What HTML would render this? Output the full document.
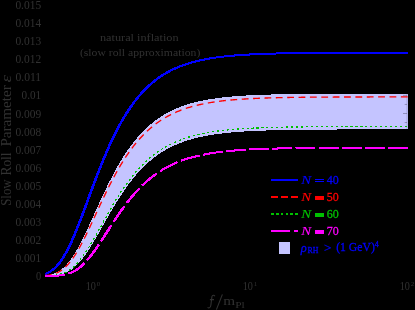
<!DOCTYPE html><html><head><meta charset="utf-8"><style>html,body{margin:0;padding:0;background:#000;width:415px;height:310px;overflow:hidden}svg{display:block;will-change:transform}text{font-family:"Liberation Serif",serif}</style></head><body>
<svg width="415" height="310" viewBox="0 0 415 310">
<rect width="415" height="310" fill="#000"/>
<path transform="translate(-0.5 0)" d="M45.74 275.46 L46.46 275.37 L47.18 275.28 L47.91 275.17 L48.63 275.06 L49.35 274.92 L50.07 274.78 L50.80 274.62 L51.52 274.44 L52.24 274.24 L52.96 274.02 L53.69 273.79 L54.41 273.53 L55.13 273.25 L55.85 272.95 L56.58 272.62 L57.30 272.27 L58.02 271.88 L58.74 271.48 L59.47 271.04 L60.19 270.57 L60.91 270.07 L61.63 269.55 L62.36 268.98 L63.08 268.39 L63.80 267.76 L64.52 267.10 L65.25 266.41 L65.97 265.68 L66.69 264.92 L67.41 264.12 L68.14 263.28 L68.86 262.41 L69.58 261.51 L70.30 260.57 L71.03 259.60 L71.75 258.60 L72.47 257.56 L73.19 256.48 L73.92 255.38 L74.64 254.24 L75.36 253.08 L76.08 251.88 L76.81 250.65 L77.53 249.40 L78.25 248.12 L78.97 246.81 L79.70 245.47 L80.42 244.12 L81.14 242.74 L81.86 241.33 L82.59 239.91 L83.31 238.47 L84.03 237.01 L84.75 235.53 L85.48 234.03 L86.20 232.53 L86.92 231.00 L87.64 229.47 L88.37 227.92 L89.09 226.37 L89.81 224.80 L90.53 223.23 L91.26 221.65 L91.98 220.07 L92.70 218.48 L93.42 216.89 L94.15 215.29 L94.87 213.70 L95.59 212.10 L96.31 210.51 L97.04 208.91 L97.76 207.33 L98.48 205.74 L99.21 204.16 L99.93 202.58 L100.65 201.01 L101.37 199.44 L102.10 197.89 L102.82 196.34 L103.54 194.80 L104.26 193.27 L104.99 191.74 L105.71 190.23 L106.43 188.73 L107.15 187.24 L107.88 185.77 L108.60 184.30 L109.32 182.85 L110.04 181.41 L110.77 179.98 L111.49 178.57 L112.21 177.17 L112.93 175.79 L113.66 174.42 L114.38 173.07 L115.10 171.73 L115.82 170.40 L116.55 169.09 L117.27 167.80 L117.99 166.52 L118.71 165.26 L119.44 164.01 L120.16 162.78 L120.88 161.57 L121.60 160.37 L122.33 159.19 L123.05 158.02 L123.77 156.87 L124.49 155.74 L125.22 154.62 L125.94 153.51 L126.66 152.43 L127.38 151.36 L128.11 150.30 L128.83 149.26 L129.55 148.24 L130.27 147.23 L131.00 146.24 L131.72 145.26 L132.44 144.30 L133.16 143.35 L133.89 142.42 L134.61 141.50 L135.33 140.60 L136.05 139.71 L136.78 138.84 L137.50 137.98 L138.22 137.14 L138.94 136.31 L139.67 135.49 L140.39 134.69 L141.11 133.90 L141.83 133.13 L142.56 132.36 L143.28 131.62 L144.00 130.88 L144.72 130.16 L145.45 129.45 L146.17 128.75 L146.89 128.06 L147.61 127.39 L148.34 126.73 L149.06 126.08 L149.78 125.44 L150.50 124.82 L151.23 124.20 L151.95 123.60 L152.67 123.01 L153.39 122.42 L154.12 121.85 L154.84 121.29 L155.56 120.74 L156.28 120.20 L157.01 119.67 L157.73 119.15 L158.45 118.64 L159.17 118.14 L159.90 117.65 L160.62 117.17 L161.34 116.70 L162.06 116.23 L162.79 115.78 L163.51 115.33 L164.23 114.89 L164.95 114.46 L165.68 114.04 L166.40 113.63 L167.12 113.22 L167.84 112.83 L168.57 112.44 L169.29 112.06 L170.01 111.68 L170.73 111.31 L171.46 110.95 L172.18 110.60 L172.90 110.25 L173.62 109.91 L174.35 109.58 L175.07 109.26 L175.79 108.94 L176.52 108.62 L177.24 108.31 L177.96 108.01 L178.68 107.72 L179.41 107.43 L180.13 107.14 L180.85 106.87 L181.57 106.59 L182.30 106.33 L183.02 106.06 L183.74 105.81 L184.46 105.56 L185.19 105.31 L185.91 105.07 L186.63 104.83 L187.35 104.60 L188.08 104.37 L188.80 104.15 L189.52 103.93 L190.24 103.72 L190.97 103.51 L191.69 103.30 L192.41 103.10 L193.13 102.90 L193.86 102.71 L194.58 102.52 L195.30 102.34 L196.02 102.15 L196.75 101.98 L197.47 101.80 L198.19 101.63 L198.91 101.46 L199.64 101.30 L200.36 101.14 L201.08 100.98 L201.80 100.83 L202.53 100.68 L203.25 100.53 L203.97 100.38 L204.69 100.24 L205.42 100.10 L206.14 99.97 L206.86 99.83 L207.58 99.70 L208.31 99.58 L209.03 99.45 L209.75 99.33 L210.47 99.21 L211.20 99.09 L211.92 98.97 L212.64 98.86 L213.36 98.75 L214.09 98.64 L214.81 98.54 L215.53 98.43 L216.25 98.33 L216.98 98.23 L217.70 98.13 L218.42 98.04 L219.14 97.94 L219.87 97.85 L220.59 97.76 L221.31 97.67 L222.03 97.59 L222.76 97.50 L223.48 97.42 L224.20 97.34 L224.92 97.26 L225.65 97.18 L226.37 97.11 L227.09 97.03 L227.81 96.96 L228.54 96.89 L229.26 96.82 L229.98 96.75 L230.70 96.68 L231.43 96.62 L232.15 96.55 L232.87 96.49 L233.59 96.43 L234.32 96.37 L235.04 96.31 L235.76 96.25 L236.48 96.19 L237.21 96.14 L237.93 96.08 L238.65 96.03 L239.37 95.98 L240.10 95.93 L240.82 95.88 L241.54 95.83 L242.26 95.78 L242.99 95.73 L243.71 95.69 L244.43 95.64 L245.15 95.60 L245.88 95.55 L246.60 95.51 L247.32 95.47 L248.04 95.43 L248.77 95.39 L249.49 95.35 L250.21 95.31 L250.93 95.28 L251.66 95.24 L252.38 95.20 L253.10 95.17 L253.83 95.13 L254.55 95.10 L255.27 95.07 L255.99 95.04 L256.72 95.00 L257.44 94.97 L258.16 94.94 L258.88 94.91 L259.61 94.88 L260.33 94.86 L261.05 94.83 L261.77 94.80 L262.50 94.78 L263.22 94.75 L263.94 94.72 L264.66 94.70 L265.39 94.67 L266.11 94.65 L266.83 94.63 L267.55 94.60 L268.28 94.58 L269.00 94.56 L269.72 94.54 L270.44 94.52 L271.17 94.50 L271.89 94.48 L272.61 94.46 L273.33 94.44 L274.06 94.42 L274.78 94.40 L275.50 94.38 L276.22 94.36 L276.95 94.35 L277.67 94.33 L278.39 94.31 L279.11 94.30 L279.84 94.28 L280.56 94.26 L281.28 94.25 L282.00 94.23 L282.73 94.22 L283.45 94.20 L284.17 94.19 L284.89 94.18 L285.62 94.16 L286.34 94.15 L287.06 94.14 L287.78 94.12 L288.51 94.11 L289.23 94.10 L289.95 94.09 L290.67 94.08 L291.40 94.06 L292.12 94.05 L292.84 94.04 L293.56 94.03 L294.29 94.02 L295.01 94.01 L295.73 94.00 L296.45 93.99 L297.18 93.98 L297.90 93.97 L298.62 93.96 L299.34 93.95 L300.07 93.94 L300.79 93.94 L301.51 93.93 L302.23 93.92 L302.96 93.91 L303.68 93.90 L304.40 93.90 L305.12 93.89 L305.85 93.88 L306.57 93.87 L307.29 93.87 L308.01 93.86 L308.74 93.85 L309.46 93.85 L310.18 93.84 L310.90 93.83 L311.63 93.83 L312.35 93.82 L313.07 93.81 L313.79 93.81 L314.52 93.80 L315.24 93.80 L315.96 93.79 L316.68 93.79 L317.41 93.78 L318.13 93.77 L318.85 93.77 L319.57 93.76 L320.30 93.76 L321.02 93.75 L321.74 93.75 L322.46 93.75 L323.19 93.74 L323.91 93.74 L324.63 93.73 L325.35 93.73 L326.08 93.72 L326.80 93.72 L327.52 93.72 L328.24 93.71 L328.97 93.71 L329.69 93.70 L330.41 93.70 L331.14 93.70 L331.86 93.69 L332.58 93.69 L333.30 93.69 L334.03 93.68 L334.75 93.68 L335.47 93.68 L336.19 93.67 L336.92 93.67 L337.64 93.67 L338.36 93.67 L339.08 93.66 L339.81 93.66 L340.53 93.66 L341.25 93.65 L341.97 93.65 L342.70 93.65 L343.42 93.65 L344.14 93.64 L344.86 93.64 L345.59 93.64 L346.31 93.64 L347.03 93.64 L347.75 93.63 L348.48 93.63 L349.20 93.63 L349.92 93.63 L350.64 93.62 L351.37 93.62 L352.09 93.62 L352.81 93.62 L353.53 93.62 L354.26 93.62 L354.98 93.61 L355.70 93.61 L356.42 93.61 L357.15 93.61 L357.87 93.61 L358.59 93.61 L359.31 93.60 L360.04 93.60 L360.76 93.60 L361.48 93.60 L362.20 93.60 L362.93 93.60 L363.65 93.59 L364.37 93.59 L365.09 93.59 L365.82 93.59 L366.54 93.59 L367.26 93.59 L367.98 93.59 L368.71 93.59 L369.43 93.58 L370.15 93.58 L370.87 93.58 L371.60 93.58 L372.32 93.58 L373.04 93.58 L373.76 93.58 L374.49 93.58 L375.21 93.58 L375.93 93.58 L376.65 93.57 L377.38 93.57 L378.10 93.57 L378.82 93.57 L379.54 93.57 L380.27 93.57 L380.99 93.57 L381.71 93.57 L382.43 93.57 L383.16 93.57 L383.88 93.57 L384.60 93.57 L385.32 93.56 L386.05 93.56 L386.77 93.56 L387.49 93.56 L388.21 93.56 L388.94 93.56 L389.66 93.56 L390.38 93.56 L391.10 93.56 L391.83 93.56 L392.55 93.56 L393.27 93.56 L393.99 93.56 L394.72 93.56 L395.44 93.56 L396.16 93.56 L396.88 93.55 L397.61 93.55 L398.33 93.55 L399.05 93.55 L399.77 93.55 L400.50 93.55 L401.22 93.55 L401.94 93.55 L402.66 93.55 L403.39 93.55 L404.11 93.55 L404.83 93.55 L405.55 93.55 L406.28 93.55 L407.00 93.55 L407.00 129.37 L406.28 129.37 L405.55 129.37 L404.83 129.38 L404.11 129.38 L403.39 129.38 L402.66 129.38 L401.94 129.38 L401.22 129.38 L400.50 129.38 L399.77 129.38 L399.05 129.38 L398.33 129.38 L397.61 129.38 L396.88 129.38 L396.16 129.38 L395.44 129.38 L394.72 129.38 L393.99 129.38 L393.27 129.38 L392.55 129.38 L391.83 129.38 L391.10 129.38 L390.38 129.39 L389.66 129.39 L388.94 129.39 L388.21 129.39 L387.49 129.39 L386.77 129.39 L386.05 129.39 L385.32 129.39 L384.60 129.39 L383.88 129.39 L383.16 129.39 L382.43 129.39 L381.71 129.39 L380.99 129.39 L380.27 129.40 L379.54 129.40 L378.82 129.40 L378.10 129.40 L377.38 129.40 L376.65 129.40 L375.93 129.40 L375.21 129.40 L374.49 129.40 L373.76 129.40 L373.04 129.40 L372.32 129.41 L371.60 129.41 L370.87 129.41 L370.15 129.41 L369.43 129.41 L368.71 129.41 L367.98 129.41 L367.26 129.41 L366.54 129.41 L365.82 129.42 L365.09 129.42 L364.37 129.42 L363.65 129.42 L362.93 129.42 L362.20 129.42 L361.48 129.42 L360.76 129.43 L360.04 129.43 L359.31 129.43 L358.59 129.43 L357.87 129.43 L357.15 129.43 L356.42 129.44 L355.70 129.44 L354.98 129.44 L354.26 129.44 L353.53 129.44 L352.81 129.44 L352.09 129.45 L351.37 129.45 L350.64 129.45 L349.92 129.45 L349.20 129.45 L348.48 129.46 L347.75 129.46 L347.03 129.46 L346.31 129.46 L345.59 129.47 L344.86 129.47 L344.14 129.47 L343.42 129.47 L342.70 129.47 L341.97 129.48 L341.25 129.48 L340.53 129.48 L339.81 129.49 L339.08 129.49 L338.36 129.49 L337.64 129.49 L336.92 129.50 L336.19 129.50 L335.47 129.50 L334.75 129.51 L334.03 129.51 L333.30 129.51 L332.58 129.52 L331.86 129.52 L331.14 129.52 L330.41 129.53 L329.69 129.53 L328.97 129.53 L328.24 129.54 L327.52 129.54 L326.80 129.55 L326.08 129.55 L325.35 129.55 L324.63 129.56 L323.91 129.56 L323.19 129.57 L322.46 129.57 L321.74 129.58 L321.02 129.58 L320.30 129.58 L319.57 129.59 L318.85 129.59 L318.13 129.60 L317.41 129.61 L316.68 129.61 L315.96 129.62 L315.24 129.62 L314.52 129.63 L313.79 129.63 L313.07 129.64 L312.35 129.64 L311.63 129.65 L310.90 129.66 L310.18 129.66 L309.46 129.67 L308.74 129.68 L308.01 129.68 L307.29 129.69 L306.57 129.70 L305.85 129.71 L305.12 129.71 L304.40 129.72 L303.68 129.73 L302.96 129.74 L302.23 129.74 L301.51 129.75 L300.79 129.76 L300.07 129.77 L299.34 129.78 L298.62 129.79 L297.90 129.80 L297.18 129.81 L296.45 129.82 L295.73 129.83 L295.01 129.84 L294.29 129.85 L293.56 129.86 L292.84 129.87 L292.12 129.88 L291.40 129.89 L290.67 129.90 L289.95 129.91 L289.23 129.92 L288.51 129.94 L287.78 129.95 L287.06 129.96 L286.34 129.97 L285.62 129.99 L284.89 130.00 L284.17 130.02 L283.45 130.03 L282.73 130.04 L282.00 130.06 L281.28 130.07 L280.56 130.09 L279.84 130.10 L279.11 130.12 L278.39 130.14 L277.67 130.15 L276.95 130.17 L276.22 130.19 L275.50 130.21 L274.78 130.22 L274.06 130.24 L273.33 130.26 L272.61 130.28 L271.89 130.30 L271.17 130.32 L270.44 130.34 L269.72 130.36 L269.00 130.38 L268.28 130.41 L267.55 130.43 L266.83 130.45 L266.11 130.47 L265.39 130.50 L264.66 130.52 L263.94 130.55 L263.22 130.57 L262.50 130.60 L261.77 130.63 L261.05 130.65 L260.33 130.68 L259.61 130.71 L258.88 130.74 L258.16 130.77 L257.44 130.80 L256.72 130.83 L255.99 130.86 L255.27 130.89 L254.55 130.93 L253.83 130.96 L253.10 130.99 L252.38 131.03 L251.66 131.06 L250.93 131.10 L250.21 131.14 L249.49 131.17 L248.77 131.21 L248.04 131.25 L247.32 131.29 L246.60 131.34 L245.88 131.38 L245.15 131.42 L244.43 131.46 L243.71 131.51 L242.99 131.56 L242.26 131.60 L241.54 131.65 L240.82 131.70 L240.10 131.75 L239.37 131.80 L238.65 131.85 L237.93 131.90 L237.21 131.96 L236.48 132.01 L235.76 132.07 L235.04 132.13 L234.32 132.19 L233.59 132.25 L232.87 132.31 L232.15 132.37 L231.43 132.44 L230.70 132.50 L229.98 132.57 L229.26 132.64 L228.54 132.71 L227.81 132.78 L227.09 132.85 L226.37 132.93 L225.65 133.00 L224.92 133.08 L224.20 133.16 L223.48 133.24 L222.76 133.32 L222.03 133.40 L221.31 133.49 L220.59 133.58 L219.87 133.67 L219.14 133.76 L218.42 133.85 L217.70 133.95 L216.98 134.05 L216.25 134.14 L215.53 134.25 L214.81 134.35 L214.09 134.46 L213.36 134.56 L212.64 134.67 L211.92 134.79 L211.20 134.90 L210.47 135.02 L209.75 135.14 L209.03 135.26 L208.31 135.38 L207.58 135.51 L206.86 135.64 L206.14 135.77 L205.42 135.91 L204.69 136.05 L203.97 136.19 L203.25 136.33 L202.53 136.48 L201.80 136.63 L201.08 136.78 L200.36 136.94 L199.64 137.10 L198.91 137.26 L198.19 137.43 L197.47 137.60 L196.75 137.77 L196.02 137.95 L195.30 138.13 L194.58 138.31 L193.86 138.50 L193.13 138.69 L192.41 138.88 L191.69 139.08 L190.97 139.29 L190.24 139.49 L189.52 139.71 L188.80 139.92 L188.08 140.14 L187.35 140.37 L186.63 140.60 L185.91 140.83 L185.19 141.07 L184.46 141.31 L183.74 141.56 L183.02 141.82 L182.30 142.08 L181.57 142.34 L180.85 142.61 L180.13 142.88 L179.41 143.16 L178.68 143.45 L177.96 143.74 L177.24 144.04 L176.52 144.34 L175.79 144.65 L175.07 144.96 L174.35 145.29 L173.62 145.61 L172.90 145.95 L172.18 146.29 L171.46 146.63 L170.73 146.99 L170.01 147.35 L169.29 147.72 L168.57 148.09 L167.84 148.47 L167.12 148.86 L166.40 149.26 L165.68 149.67 L164.95 150.08 L164.23 150.50 L163.51 150.93 L162.79 151.36 L162.06 151.81 L161.34 152.26 L160.62 152.72 L159.90 153.19 L159.17 153.67 L158.45 154.16 L157.73 154.66 L157.01 155.16 L156.28 155.68 L155.56 156.20 L154.84 156.74 L154.12 157.28 L153.39 157.84 L152.67 158.40 L151.95 158.97 L151.23 159.56 L150.50 160.15 L149.78 160.76 L149.06 161.37 L148.34 162.00 L147.61 162.64 L146.89 163.28 L146.17 163.94 L145.45 164.61 L144.72 165.30 L144.00 165.99 L143.28 166.70 L142.56 167.41 L141.83 168.14 L141.11 168.88 L140.39 169.63 L139.67 170.40 L138.94 171.18 L138.22 171.96 L137.50 172.77 L136.78 173.58 L136.05 174.41 L135.33 175.25 L134.61 176.10 L133.89 176.96 L133.16 177.84 L132.44 178.73 L131.72 179.63 L131.00 180.55 L130.27 181.48 L129.55 182.42 L128.83 183.38 L128.11 184.34 L127.38 185.32 L126.66 186.32 L125.94 187.32 L125.22 188.34 L124.49 189.37 L123.77 190.41 L123.05 191.47 L122.33 192.54 L121.60 193.62 L120.88 194.71 L120.16 195.82 L119.44 196.93 L118.71 198.06 L117.99 199.20 L117.27 200.35 L116.55 201.51 L115.82 202.68 L115.10 203.86 L114.38 205.05 L113.66 206.25 L112.93 207.45 L112.21 208.67 L111.49 209.90 L110.77 211.13 L110.04 212.37 L109.32 213.62 L108.60 214.87 L107.88 216.13 L107.15 217.39 L106.43 218.66 L105.71 219.94 L104.99 221.21 L104.26 222.49 L103.54 223.77 L102.82 225.05 L102.10 226.33 L101.37 227.62 L100.65 228.90 L99.93 230.18 L99.21 231.45 L98.48 232.72 L97.76 233.99 L97.04 235.25 L96.31 236.51 L95.59 237.76 L94.87 239.00 L94.15 240.23 L93.42 241.45 L92.70 242.66 L91.98 243.85 L91.26 245.04 L90.53 246.21 L89.81 247.36 L89.09 248.50 L88.37 249.62 L87.64 250.72 L86.92 251.81 L86.20 252.88 L85.48 253.92 L84.75 254.94 L84.03 255.94 L83.31 256.92 L82.59 257.88 L81.86 258.81 L81.14 259.71 L80.42 260.59 L79.70 261.45 L78.97 262.27 L78.25 263.07 L77.53 263.84 L76.81 264.59 L76.08 265.31 L75.36 266.00 L74.64 266.66 L73.92 267.29 L73.19 267.90 L72.47 268.47 L71.75 269.02 L71.03 269.54 L70.30 270.04 L69.58 270.51 L68.86 270.95 L68.14 271.37 L67.41 271.76 L66.69 272.13 L65.97 272.47 L65.25 272.79 L64.52 273.09 L63.80 273.37 L63.08 273.63 L62.36 273.86 L61.63 274.08 L60.91 274.28 L60.19 274.47 L59.47 274.64 L58.74 274.79 L58.02 274.93 L57.30 275.06 L56.58 275.17 L55.85 275.27 L55.13 275.36 L54.41 275.45 L53.69 275.52 L52.96 275.58 L52.24 275.64 L51.52 275.69 L50.80 275.74 L50.07 275.78 L49.35 275.81 L48.63 275.84 L47.91 275.86 L47.18 275.89 L46.46 275.91 L45.74 275.92 Z" fill="#c4c4ff" shape-rendering="crispEdges"/>
<path transform="translate(0.5 0)" d="M45.74 275.46 L46.46 275.37 L47.18 275.28 L47.91 275.17 L48.63 275.06 L49.35 274.92 L50.07 274.78 L50.80 274.62 L51.52 274.44 L52.24 274.24 L52.96 274.02 L53.69 273.79 L54.41 273.53 L55.13 273.25 L55.85 272.95 L56.58 272.62 L57.30 272.27 L58.02 271.88 L58.74 271.48 L59.47 271.04 L60.19 270.57 L60.91 270.07 L61.63 269.55 L62.36 268.98 L63.08 268.39 L63.80 267.76 L64.52 267.10 L65.25 266.41 L65.97 265.68 L66.69 264.92 L67.41 264.12 L68.14 263.28 L68.86 262.41 L69.58 261.51 L70.30 260.57 L71.03 259.60 L71.75 258.60 L72.47 257.56 L73.19 256.48 L73.92 255.38 L74.64 254.24 L75.36 253.08 L76.08 251.88 L76.81 250.65 L77.53 249.40 L78.25 248.12 L78.97 246.81 L79.70 245.47 L80.42 244.12 L81.14 242.74 L81.86 241.33 L82.59 239.91 L83.31 238.47 L84.03 237.01 L84.75 235.53 L85.48 234.03 L86.20 232.53 L86.92 231.00 L87.64 229.47 L88.37 227.92 L89.09 226.37 L89.81 224.80 L90.53 223.23 L91.26 221.65 L91.98 220.07 L92.70 218.48 L93.42 216.89 L94.15 215.29 L94.87 213.70 L95.59 212.10 L96.31 210.51 L97.04 208.91 L97.76 207.33 L98.48 205.74 L99.21 204.16 L99.93 202.58 L100.65 201.01 L101.37 199.44 L102.10 197.89 L102.82 196.34 L103.54 194.80 L104.26 193.27 L104.99 191.74 L105.71 190.23 L106.43 188.73 L107.15 187.24 L107.88 185.77 L108.60 184.30 L109.32 182.85 L110.04 181.41 L110.77 179.98 L111.49 178.57 L112.21 177.17 L112.93 175.79 L113.66 174.42 L114.38 173.07 L115.10 171.73 L115.82 170.40 L116.55 169.09 L117.27 167.80 L117.99 166.52 L118.71 165.26 L119.44 164.01 L120.16 162.78 L120.88 161.57 L121.60 160.37 L122.33 159.19 L123.05 158.02 L123.77 156.87 L124.49 155.74 L125.22 154.62 L125.94 153.51 L126.66 152.43 L127.38 151.36 L128.11 150.30 L128.83 149.26 L129.55 148.24 L130.27 147.23 L131.00 146.24 L131.72 145.26 L132.44 144.30 L133.16 143.35 L133.89 142.42 L134.61 141.50 L135.33 140.60 L136.05 139.71 L136.78 138.84 L137.50 137.98 L138.22 137.14 L138.94 136.31 L139.67 135.49 L140.39 134.69 L141.11 133.90 L141.83 133.13 L142.56 132.36 L143.28 131.62 L144.00 130.88 L144.72 130.16 L145.45 129.45 L146.17 128.75 L146.89 128.06 L147.61 127.39 L148.34 126.73 L149.06 126.08 L149.78 125.44 L150.50 124.82 L151.23 124.20 L151.95 123.60 L152.67 123.01 L153.39 122.42 L154.12 121.85 L154.84 121.29 L155.56 120.74 L156.28 120.20 L157.01 119.67 L157.73 119.15 L158.45 118.64 L159.17 118.14 L159.90 117.65 L160.62 117.17 L161.34 116.70 L162.06 116.23 L162.79 115.78 L163.51 115.33 L164.23 114.89 L164.95 114.46 L165.68 114.04 L166.40 113.63 L167.12 113.22 L167.84 112.83 L168.57 112.44 L169.29 112.06 L170.01 111.68 L170.73 111.31 L171.46 110.95 L172.18 110.60 L172.90 110.25 L173.62 109.91 L174.35 109.58 L175.07 109.26 L175.79 108.94 L176.52 108.62 L177.24 108.31 L177.96 108.01 L178.68 107.72 L179.41 107.43 L180.13 107.14 L180.85 106.87 L181.57 106.59 L182.30 106.33 L183.02 106.06 L183.74 105.81 L184.46 105.56 L185.19 105.31 L185.91 105.07 L186.63 104.83 L187.35 104.60 L188.08 104.37 L188.80 104.15 L189.52 103.93 L190.24 103.72 L190.97 103.51 L191.69 103.30 L192.41 103.10 L193.13 102.90 L193.86 102.71 L194.58 102.52 L195.30 102.34 L196.02 102.15 L196.75 101.98 L197.47 101.80 L198.19 101.63 L198.91 101.46 L199.64 101.30 L200.36 101.14 L201.08 100.98 L201.80 100.83 L202.53 100.68 L203.25 100.53 L203.97 100.38 L204.69 100.24 L205.42 100.10 L206.14 99.97 L206.86 99.83 L207.58 99.70 L208.31 99.58 L209.03 99.45 L209.75 99.33 L210.47 99.21 L211.20 99.09 L211.92 98.97 L212.64 98.86 L213.36 98.75 L214.09 98.64 L214.81 98.54 L215.53 98.43 L216.25 98.33 L216.98 98.23 L217.70 98.13 L218.42 98.04 L219.14 97.94 L219.87 97.85 L220.59 97.76 L221.31 97.67 L222.03 97.59 L222.76 97.50 L223.48 97.42 L224.20 97.34 L224.92 97.26 L225.65 97.18 L226.37 97.11 L227.09 97.03 L227.81 96.96 L228.54 96.89 L229.26 96.82 L229.98 96.75 L230.70 96.68 L231.43 96.62 L232.15 96.55 L232.87 96.49 L233.59 96.43 L234.32 96.37 L235.04 96.31 L235.76 96.25 L236.48 96.19 L237.21 96.14 L237.93 96.08 L238.65 96.03 L239.37 95.98 L240.10 95.93 L240.82 95.88 L241.54 95.83 L242.26 95.78 L242.99 95.73 L243.71 95.69 L244.43 95.64 L245.15 95.60 L245.88 95.55 L246.60 95.51 L247.32 95.47 L248.04 95.43 L248.77 95.39 L249.49 95.35 L250.21 95.31 L250.93 95.28 L251.66 95.24 L252.38 95.20 L253.10 95.17 L253.83 95.13 L254.55 95.10 L255.27 95.07 L255.99 95.04 L256.72 95.00 L257.44 94.97 L258.16 94.94 L258.88 94.91 L259.61 94.88 L260.33 94.86 L261.05 94.83 L261.77 94.80 L262.50 94.78 L263.22 94.75 L263.94 94.72 L264.66 94.70 L265.39 94.67 L266.11 94.65 L266.83 94.63 L267.55 94.60 L268.28 94.58 L269.00 94.56 L269.72 94.54 L270.44 94.52 L271.17 94.50 L271.89 94.48 L272.61 94.46 L273.33 94.44 L274.06 94.42 L274.78 94.40 L275.50 94.38 L276.22 94.36 L276.95 94.35 L277.67 94.33 L278.39 94.31 L279.11 94.30 L279.84 94.28 L280.56 94.26 L281.28 94.25 L282.00 94.23 L282.73 94.22 L283.45 94.20 L284.17 94.19 L284.89 94.18 L285.62 94.16 L286.34 94.15 L287.06 94.14 L287.78 94.12 L288.51 94.11 L289.23 94.10 L289.95 94.09 L290.67 94.08 L291.40 94.06 L292.12 94.05 L292.84 94.04 L293.56 94.03 L294.29 94.02 L295.01 94.01 L295.73 94.00 L296.45 93.99 L297.18 93.98 L297.90 93.97 L298.62 93.96 L299.34 93.95 L300.07 93.94 L300.79 93.94 L301.51 93.93 L302.23 93.92 L302.96 93.91 L303.68 93.90 L304.40 93.90 L305.12 93.89 L305.85 93.88 L306.57 93.87 L307.29 93.87 L308.01 93.86 L308.74 93.85 L309.46 93.85 L310.18 93.84 L310.90 93.83 L311.63 93.83 L312.35 93.82 L313.07 93.81 L313.79 93.81 L314.52 93.80 L315.24 93.80 L315.96 93.79 L316.68 93.79 L317.41 93.78 L318.13 93.77 L318.85 93.77 L319.57 93.76 L320.30 93.76 L321.02 93.75 L321.74 93.75 L322.46 93.75 L323.19 93.74 L323.91 93.74 L324.63 93.73 L325.35 93.73 L326.08 93.72 L326.80 93.72 L327.52 93.72 L328.24 93.71 L328.97 93.71 L329.69 93.70 L330.41 93.70 L331.14 93.70 L331.86 93.69 L332.58 93.69 L333.30 93.69 L334.03 93.68 L334.75 93.68 L335.47 93.68 L336.19 93.67 L336.92 93.67 L337.64 93.67 L338.36 93.67 L339.08 93.66 L339.81 93.66 L340.53 93.66 L341.25 93.65 L341.97 93.65 L342.70 93.65 L343.42 93.65 L344.14 93.64 L344.86 93.64 L345.59 93.64 L346.31 93.64 L347.03 93.64 L347.75 93.63 L348.48 93.63 L349.20 93.63 L349.92 93.63 L350.64 93.62 L351.37 93.62 L352.09 93.62 L352.81 93.62 L353.53 93.62 L354.26 93.62 L354.98 93.61 L355.70 93.61 L356.42 93.61 L357.15 93.61 L357.87 93.61 L358.59 93.61 L359.31 93.60 L360.04 93.60 L360.76 93.60 L361.48 93.60 L362.20 93.60 L362.93 93.60 L363.65 93.59 L364.37 93.59 L365.09 93.59 L365.82 93.59 L366.54 93.59 L367.26 93.59 L367.98 93.59 L368.71 93.59 L369.43 93.58 L370.15 93.58 L370.87 93.58 L371.60 93.58 L372.32 93.58 L373.04 93.58 L373.76 93.58 L374.49 93.58 L375.21 93.58 L375.93 93.58 L376.65 93.57 L377.38 93.57 L378.10 93.57 L378.82 93.57 L379.54 93.57 L380.27 93.57 L380.99 93.57 L381.71 93.57 L382.43 93.57 L383.16 93.57 L383.88 93.57 L384.60 93.57 L385.32 93.56 L386.05 93.56 L386.77 93.56 L387.49 93.56 L388.21 93.56 L388.94 93.56 L389.66 93.56 L390.38 93.56 L391.10 93.56 L391.83 93.56 L392.55 93.56 L393.27 93.56 L393.99 93.56 L394.72 93.56 L395.44 93.56 L396.16 93.56 L396.88 93.55 L397.61 93.55 L398.33 93.55 L399.05 93.55 L399.77 93.55 L400.50 93.55 L401.22 93.55 L401.94 93.55 L402.66 93.55 L403.39 93.55 L404.11 93.55 L404.83 93.55 L405.55 93.55 L406.28 93.55 L407.00 93.55 L407.00 129.37 L406.28 129.37 L405.55 129.37 L404.83 129.38 L404.11 129.38 L403.39 129.38 L402.66 129.38 L401.94 129.38 L401.22 129.38 L400.50 129.38 L399.77 129.38 L399.05 129.38 L398.33 129.38 L397.61 129.38 L396.88 129.38 L396.16 129.38 L395.44 129.38 L394.72 129.38 L393.99 129.38 L393.27 129.38 L392.55 129.38 L391.83 129.38 L391.10 129.38 L390.38 129.39 L389.66 129.39 L388.94 129.39 L388.21 129.39 L387.49 129.39 L386.77 129.39 L386.05 129.39 L385.32 129.39 L384.60 129.39 L383.88 129.39 L383.16 129.39 L382.43 129.39 L381.71 129.39 L380.99 129.39 L380.27 129.40 L379.54 129.40 L378.82 129.40 L378.10 129.40 L377.38 129.40 L376.65 129.40 L375.93 129.40 L375.21 129.40 L374.49 129.40 L373.76 129.40 L373.04 129.40 L372.32 129.41 L371.60 129.41 L370.87 129.41 L370.15 129.41 L369.43 129.41 L368.71 129.41 L367.98 129.41 L367.26 129.41 L366.54 129.41 L365.82 129.42 L365.09 129.42 L364.37 129.42 L363.65 129.42 L362.93 129.42 L362.20 129.42 L361.48 129.42 L360.76 129.43 L360.04 129.43 L359.31 129.43 L358.59 129.43 L357.87 129.43 L357.15 129.43 L356.42 129.44 L355.70 129.44 L354.98 129.44 L354.26 129.44 L353.53 129.44 L352.81 129.44 L352.09 129.45 L351.37 129.45 L350.64 129.45 L349.92 129.45 L349.20 129.45 L348.48 129.46 L347.75 129.46 L347.03 129.46 L346.31 129.46 L345.59 129.47 L344.86 129.47 L344.14 129.47 L343.42 129.47 L342.70 129.47 L341.97 129.48 L341.25 129.48 L340.53 129.48 L339.81 129.49 L339.08 129.49 L338.36 129.49 L337.64 129.49 L336.92 129.50 L336.19 129.50 L335.47 129.50 L334.75 129.51 L334.03 129.51 L333.30 129.51 L332.58 129.52 L331.86 129.52 L331.14 129.52 L330.41 129.53 L329.69 129.53 L328.97 129.53 L328.24 129.54 L327.52 129.54 L326.80 129.55 L326.08 129.55 L325.35 129.55 L324.63 129.56 L323.91 129.56 L323.19 129.57 L322.46 129.57 L321.74 129.58 L321.02 129.58 L320.30 129.58 L319.57 129.59 L318.85 129.59 L318.13 129.60 L317.41 129.61 L316.68 129.61 L315.96 129.62 L315.24 129.62 L314.52 129.63 L313.79 129.63 L313.07 129.64 L312.35 129.64 L311.63 129.65 L310.90 129.66 L310.18 129.66 L309.46 129.67 L308.74 129.68 L308.01 129.68 L307.29 129.69 L306.57 129.70 L305.85 129.71 L305.12 129.71 L304.40 129.72 L303.68 129.73 L302.96 129.74 L302.23 129.74 L301.51 129.75 L300.79 129.76 L300.07 129.77 L299.34 129.78 L298.62 129.79 L297.90 129.80 L297.18 129.81 L296.45 129.82 L295.73 129.83 L295.01 129.84 L294.29 129.85 L293.56 129.86 L292.84 129.87 L292.12 129.88 L291.40 129.89 L290.67 129.90 L289.95 129.91 L289.23 129.92 L288.51 129.94 L287.78 129.95 L287.06 129.96 L286.34 129.97 L285.62 129.99 L284.89 130.00 L284.17 130.02 L283.45 130.03 L282.73 130.04 L282.00 130.06 L281.28 130.07 L280.56 130.09 L279.84 130.10 L279.11 130.12 L278.39 130.14 L277.67 130.15 L276.95 130.17 L276.22 130.19 L275.50 130.21 L274.78 130.22 L274.06 130.24 L273.33 130.26 L272.61 130.28 L271.89 130.30 L271.17 130.32 L270.44 130.34 L269.72 130.36 L269.00 130.38 L268.28 130.41 L267.55 130.43 L266.83 130.45 L266.11 130.47 L265.39 130.50 L264.66 130.52 L263.94 130.55 L263.22 130.57 L262.50 130.60 L261.77 130.63 L261.05 130.65 L260.33 130.68 L259.61 130.71 L258.88 130.74 L258.16 130.77 L257.44 130.80 L256.72 130.83 L255.99 130.86 L255.27 130.89 L254.55 130.93 L253.83 130.96 L253.10 130.99 L252.38 131.03 L251.66 131.06 L250.93 131.10 L250.21 131.14 L249.49 131.17 L248.77 131.21 L248.04 131.25 L247.32 131.29 L246.60 131.34 L245.88 131.38 L245.15 131.42 L244.43 131.46 L243.71 131.51 L242.99 131.56 L242.26 131.60 L241.54 131.65 L240.82 131.70 L240.10 131.75 L239.37 131.80 L238.65 131.85 L237.93 131.90 L237.21 131.96 L236.48 132.01 L235.76 132.07 L235.04 132.13 L234.32 132.19 L233.59 132.25 L232.87 132.31 L232.15 132.37 L231.43 132.44 L230.70 132.50 L229.98 132.57 L229.26 132.64 L228.54 132.71 L227.81 132.78 L227.09 132.85 L226.37 132.93 L225.65 133.00 L224.92 133.08 L224.20 133.16 L223.48 133.24 L222.76 133.32 L222.03 133.40 L221.31 133.49 L220.59 133.58 L219.87 133.67 L219.14 133.76 L218.42 133.85 L217.70 133.95 L216.98 134.05 L216.25 134.14 L215.53 134.25 L214.81 134.35 L214.09 134.46 L213.36 134.56 L212.64 134.67 L211.92 134.79 L211.20 134.90 L210.47 135.02 L209.75 135.14 L209.03 135.26 L208.31 135.38 L207.58 135.51 L206.86 135.64 L206.14 135.77 L205.42 135.91 L204.69 136.05 L203.97 136.19 L203.25 136.33 L202.53 136.48 L201.80 136.63 L201.08 136.78 L200.36 136.94 L199.64 137.10 L198.91 137.26 L198.19 137.43 L197.47 137.60 L196.75 137.77 L196.02 137.95 L195.30 138.13 L194.58 138.31 L193.86 138.50 L193.13 138.69 L192.41 138.88 L191.69 139.08 L190.97 139.29 L190.24 139.49 L189.52 139.71 L188.80 139.92 L188.08 140.14 L187.35 140.37 L186.63 140.60 L185.91 140.83 L185.19 141.07 L184.46 141.31 L183.74 141.56 L183.02 141.82 L182.30 142.08 L181.57 142.34 L180.85 142.61 L180.13 142.88 L179.41 143.16 L178.68 143.45 L177.96 143.74 L177.24 144.04 L176.52 144.34 L175.79 144.65 L175.07 144.96 L174.35 145.29 L173.62 145.61 L172.90 145.95 L172.18 146.29 L171.46 146.63 L170.73 146.99 L170.01 147.35 L169.29 147.72 L168.57 148.09 L167.84 148.47 L167.12 148.86 L166.40 149.26 L165.68 149.67 L164.95 150.08 L164.23 150.50 L163.51 150.93 L162.79 151.36 L162.06 151.81 L161.34 152.26 L160.62 152.72 L159.90 153.19 L159.17 153.67 L158.45 154.16 L157.73 154.66 L157.01 155.16 L156.28 155.68 L155.56 156.20 L154.84 156.74 L154.12 157.28 L153.39 157.84 L152.67 158.40 L151.95 158.97 L151.23 159.56 L150.50 160.15 L149.78 160.76 L149.06 161.37 L148.34 162.00 L147.61 162.64 L146.89 163.28 L146.17 163.94 L145.45 164.61 L144.72 165.30 L144.00 165.99 L143.28 166.70 L142.56 167.41 L141.83 168.14 L141.11 168.88 L140.39 169.63 L139.67 170.40 L138.94 171.18 L138.22 171.96 L137.50 172.77 L136.78 173.58 L136.05 174.41 L135.33 175.25 L134.61 176.10 L133.89 176.96 L133.16 177.84 L132.44 178.73 L131.72 179.63 L131.00 180.55 L130.27 181.48 L129.55 182.42 L128.83 183.38 L128.11 184.34 L127.38 185.32 L126.66 186.32 L125.94 187.32 L125.22 188.34 L124.49 189.37 L123.77 190.41 L123.05 191.47 L122.33 192.54 L121.60 193.62 L120.88 194.71 L120.16 195.82 L119.44 196.93 L118.71 198.06 L117.99 199.20 L117.27 200.35 L116.55 201.51 L115.82 202.68 L115.10 203.86 L114.38 205.05 L113.66 206.25 L112.93 207.45 L112.21 208.67 L111.49 209.90 L110.77 211.13 L110.04 212.37 L109.32 213.62 L108.60 214.87 L107.88 216.13 L107.15 217.39 L106.43 218.66 L105.71 219.94 L104.99 221.21 L104.26 222.49 L103.54 223.77 L102.82 225.05 L102.10 226.33 L101.37 227.62 L100.65 228.90 L99.93 230.18 L99.21 231.45 L98.48 232.72 L97.76 233.99 L97.04 235.25 L96.31 236.51 L95.59 237.76 L94.87 239.00 L94.15 240.23 L93.42 241.45 L92.70 242.66 L91.98 243.85 L91.26 245.04 L90.53 246.21 L89.81 247.36 L89.09 248.50 L88.37 249.62 L87.64 250.72 L86.92 251.81 L86.20 252.88 L85.48 253.92 L84.75 254.94 L84.03 255.94 L83.31 256.92 L82.59 257.88 L81.86 258.81 L81.14 259.71 L80.42 260.59 L79.70 261.45 L78.97 262.27 L78.25 263.07 L77.53 263.84 L76.81 264.59 L76.08 265.31 L75.36 266.00 L74.64 266.66 L73.92 267.29 L73.19 267.90 L72.47 268.47 L71.75 269.02 L71.03 269.54 L70.30 270.04 L69.58 270.51 L68.86 270.95 L68.14 271.37 L67.41 271.76 L66.69 272.13 L65.97 272.47 L65.25 272.79 L64.52 273.09 L63.80 273.37 L63.08 273.63 L62.36 273.86 L61.63 274.08 L60.91 274.28 L60.19 274.47 L59.47 274.64 L58.74 274.79 L58.02 274.93 L57.30 275.06 L56.58 275.17 L55.85 275.27 L55.13 275.36 L54.41 275.45 L53.69 275.52 L52.96 275.58 L52.24 275.64 L51.52 275.69 L50.80 275.74 L50.07 275.78 L49.35 275.81 L48.63 275.84 L47.91 275.86 L47.18 275.89 L46.46 275.91 L45.74 275.92 Z" fill="#c4c4ff" shape-rendering="crispEdges"/>
<path d="M407.00 276.30H403.00M45.74 276.30H49.74M407.00 267.25H404.70M45.74 267.25H48.04M407.00 258.21H403.00M45.74 258.21H49.74M407.00 249.17H404.70M45.74 249.17H48.04M407.00 240.12H403.00M45.74 240.12H49.74M407.00 231.08H404.70M45.74 231.08H48.04M407.00 222.03H403.00M45.74 222.03H49.74M407.00 212.99H404.70M45.74 212.99H48.04M407.00 203.94H403.00M45.74 203.94H49.74M407.00 194.89H404.70M45.74 194.89H48.04M407.00 185.85H403.00M45.74 185.85H49.74M407.00 176.81H404.70M45.74 176.81H48.04M407.00 167.76H403.00M45.74 167.76H49.74M407.00 158.72H404.70M45.74 158.72H48.04M407.00 149.67H403.00M45.74 149.67H49.74M407.00 140.63H404.70M45.74 140.63H48.04M407.00 131.58H403.00M45.74 131.58H49.74M407.00 122.53H404.70M45.74 122.53H48.04M407.00 113.49H403.00M45.74 113.49H49.74M407.00 104.45H404.70M45.74 104.45H48.04M407.00 95.40H403.00M45.74 95.40H49.74M407.00 86.35H404.70M45.74 86.35H48.04M407.00 77.31H403.00M45.74 77.31H49.74M407.00 68.27H404.70M45.74 68.27H48.04M407.00 59.22H403.00M45.74 59.22H49.74M407.00 50.17H404.70M45.74 50.17H48.04M407.00 41.13H403.00M45.74 41.13H49.74M407.00 32.08H404.70M45.74 32.08H48.04M407.00 23.04H403.00M45.74 23.04H49.74M407.00 13.99H404.70M45.74 13.99H48.04M407.00 4.95H403.00M45.74 4.95H49.74" stroke="#000" stroke-opacity="0.45" stroke-width="0.6" fill="none"/>
<rect x="45.74" y="4.65" width="361.26" height="271.35" fill="none" stroke="#000" stroke-opacity="0.3" stroke-width="0.5"/>
<path transform="translate(-0.35 0)" d="M44.99 273.70 L45.74 273.70 L46.46 273.43 L47.18 273.12 L47.91 272.79 L48.63 272.44 L49.35 272.05 L50.07 271.63 L50.80 271.18 L51.52 270.70 L52.24 270.18 L52.96 269.62 L53.69 269.03 L54.41 268.40 L55.13 267.73 L55.85 267.02 L56.58 266.28 L57.30 265.49 L58.02 264.66 L58.74 263.78 L59.47 262.87 L60.19 261.91 L60.91 260.91 L61.63 259.86 L62.36 258.78 L63.08 257.65 L63.80 256.48 L64.52 255.27 L65.25 254.01 L65.97 252.72 L66.69 251.39 L67.41 250.01 L68.14 248.60 L68.86 247.15 L69.58 245.67 L70.30 244.15 L71.03 242.60 L71.75 241.01 L72.47 239.39 L73.19 237.74 L73.92 236.07 L74.64 234.36 L75.36 232.63 L76.08 230.88 L76.81 229.10 L77.53 227.30 L78.25 225.48 L78.97 223.64 L79.70 221.78 L80.42 219.91 L81.14 218.03 L81.86 216.13 L82.59 214.22 L83.31 212.30 L84.03 210.37 L84.75 208.43 L85.48 206.49 L86.20 204.54 L86.92 202.60 L87.64 200.64 L88.37 198.69 L89.09 196.74 L89.81 194.79 L90.53 192.84 L91.26 190.90 L91.98 188.96 L92.70 187.03 L93.42 185.10 L94.15 183.18 L94.87 181.27 L95.59 179.37 L96.31 177.48 L97.04 175.60 L97.76 173.73 L98.48 171.88 L99.21 170.03 L99.93 168.21 L100.65 166.39 L101.37 164.59 L102.10 162.81 L102.82 161.04 L103.54 159.29 L104.26 157.55 L104.99 155.83 L105.71 154.13 L106.43 152.44 L107.15 150.78 L107.88 149.13 L108.60 147.50 L109.32 145.89 L110.04 144.30 L110.77 142.73 L111.49 141.17 L112.21 139.64 L112.93 138.12 L113.66 136.63 L114.38 135.15 L115.10 133.69 L115.82 132.26 L116.55 130.84 L117.27 129.44 L117.99 128.06 L118.71 126.70 L119.44 125.36 L120.16 124.05 L120.88 122.74 L121.60 121.46 L122.33 120.20 L123.05 118.96 L123.77 117.74 L124.49 116.53 L125.22 115.35 L125.94 114.18 L126.66 113.03 L127.38 111.90 L128.11 110.79 L128.83 109.69 L129.55 108.62 L130.27 107.56 L131.00 106.52 L131.72 105.49 L132.44 104.49 L133.16 103.50 L133.89 102.52 L134.61 101.57 L135.33 100.63 L136.05 99.70 L136.78 98.79 L137.50 97.90 L138.22 97.03 L138.94 96.17 L139.67 95.32 L140.39 94.49 L141.11 93.67 L141.83 92.87 L142.56 92.08 L143.28 91.31 L144.00 90.55 L144.72 89.81 L145.45 89.08 L146.17 88.36 L146.89 87.65 L147.61 86.96 L148.34 86.28 L149.06 85.62 L149.78 84.96 L150.50 84.32 L151.23 83.69 L151.95 83.07 L152.67 82.47 L153.39 81.87 L154.12 81.29 L154.84 80.71 L155.56 80.15 L156.28 79.60 L157.01 79.06 L157.73 78.53 L158.45 78.01 L159.17 77.50 L159.90 77.00 L160.62 76.51 L161.34 76.03 L162.06 75.56 L162.79 75.09 L163.51 74.64 L164.23 74.19 L164.95 73.76 L165.68 73.33 L166.40 72.91 L167.12 72.50 L167.84 72.10 L168.57 71.70 L169.29 71.31 L170.01 70.93 L170.73 70.56 L171.46 70.20 L172.18 69.84 L172.90 69.49 L173.62 69.14 L174.35 68.81 L175.07 68.48 L175.79 68.15 L176.52 67.84 L177.24 67.53 L177.96 67.22 L178.68 66.92 L179.41 66.63 L180.13 66.34 L180.85 66.06 L181.57 65.79 L182.30 65.52 L183.02 65.25 L183.74 65.00 L184.46 64.74 L185.19 64.49 L185.91 64.25 L186.63 64.01 L187.35 63.78 L188.08 63.55 L188.80 63.32 L189.52 63.10 L190.24 62.89 L190.97 62.68 L191.69 62.47 L192.41 62.27 L193.13 62.07 L193.86 61.88 L194.58 61.68 L195.30 61.50 L196.02 61.32 L196.75 61.14 L197.47 60.96 L198.19 60.79 L198.91 60.62 L199.64 60.46 L200.36 60.29 L201.08 60.14 L201.80 59.98 L202.53 59.83 L203.25 59.68 L203.97 59.54 L204.69 59.39 L205.42 59.25 L206.14 59.12 L206.86 58.98 L207.58 58.85 L208.31 58.72 L209.03 58.60 L209.75 58.47 L210.47 58.35 L211.20 58.24 L211.92 58.12 L212.64 58.01 L213.36 57.89 L214.09 57.79 L214.81 57.68 L215.53 57.58 L216.25 57.47 L216.98 57.37 L217.70 57.27 L218.42 57.18 L219.14 57.08 L219.87 56.99 L220.59 56.90 L221.31 56.81 L222.03 56.73 L222.76 56.64 L223.48 56.56 L224.20 56.48 L224.92 56.40 L225.65 56.32 L226.37 56.25 L227.09 56.17 L227.81 56.10 L228.54 56.03 L229.26 55.96 L229.98 55.89 L230.70 55.82 L231.43 55.75 L232.15 55.69 L232.87 55.63 L233.59 55.57 L234.32 55.50 L235.04 55.45 L235.76 55.39 L236.48 55.33 L237.21 55.27 L237.93 55.22 L238.65 55.17 L239.37 55.11 L240.10 55.06 L240.82 55.01 L241.54 54.96 L242.26 54.92 L242.99 54.87 L243.71 54.82 L244.43 54.78 L245.15 54.73 L245.88 54.69 L246.60 54.65 L247.32 54.61 L248.04 54.57 L248.77 54.53 L249.49 54.49 L250.21 54.45 L250.93 54.41 L251.66 54.38 L252.38 54.34 L253.10 54.31 L253.83 54.27 L254.55 54.24 L255.27 54.20 L255.99 54.17 L256.72 54.14 L257.44 54.11 L258.16 54.08 L258.88 54.05 L259.61 54.02 L260.33 53.99 L261.05 53.97 L261.77 53.94 L262.50 53.91 L263.22 53.89 L263.94 53.86 L264.66 53.83 L265.39 53.81 L266.11 53.79 L266.83 53.76 L267.55 53.74 L268.28 53.72 L269.00 53.70 L269.72 53.67 L270.44 53.65 L271.17 53.63 L271.89 53.61 L272.61 53.59 L273.33 53.57 L274.06 53.55 L274.78 53.54 L275.50 53.52 L276.22 53.50 L276.95 53.48 L277.67 53.46 L278.39 53.45 L279.11 53.43 L279.84 53.42 L280.56 53.40 L281.28 53.38 L282.00 53.37 L282.73 53.35 L283.45 53.34 L284.17 53.33 L284.89 53.31 L285.62 53.30 L286.34 53.29 L287.06 53.27 L287.78 53.26 L288.51 53.25 L289.23 53.24 L289.95 53.22 L290.67 53.21 L291.40 53.20 L292.12 53.19 L292.84 53.18 L293.56 53.17 L294.29 53.16 L295.01 53.15 L295.73 53.14 L296.45 53.13 L297.18 53.12 L297.90 53.11 L298.62 53.10 L299.34 53.09 L300.07 53.08 L300.79 53.07 L301.51 53.06 L302.23 53.06 L302.96 53.05 L303.68 53.04 L304.40 53.03 L305.12 53.02 L305.85 53.02 L306.57 53.01 L307.29 53.00 L308.01 52.99 L308.74 52.99 L309.46 52.98 L310.18 52.97 L310.90 52.97 L311.63 52.96 L312.35 52.96 L313.07 52.95 L313.79 52.94 L314.52 52.94 L315.24 52.93 L315.96 52.93 L316.68 52.92 L317.41 52.92 L318.13 52.91 L318.85 52.91 L319.57 52.90 L320.30 52.90 L321.02 52.89 L321.74 52.89 L322.46 52.88 L323.19 52.88 L323.91 52.87 L324.63 52.87 L325.35 52.86 L326.08 52.86 L326.80 52.86 L327.52 52.85 L328.24 52.85 L328.97 52.84 L329.69 52.84 L330.41 52.84 L331.14 52.83 L331.86 52.83 L332.58 52.83 L333.30 52.82 L334.03 52.82 L334.75 52.82 L335.47 52.81 L336.19 52.81 L336.92 52.81 L337.64 52.80 L338.36 52.80 L339.08 52.80 L339.81 52.80 L340.53 52.79 L341.25 52.79 L341.97 52.79 L342.70 52.79 L343.42 52.78 L344.14 52.78 L344.86 52.78 L345.59 52.78 L346.31 52.77 L347.03 52.77 L347.75 52.77 L348.48 52.77 L349.20 52.76 L349.92 52.76 L350.64 52.76 L351.37 52.76 L352.09 52.76 L352.81 52.75 L353.53 52.75 L354.26 52.75 L354.98 52.75 L355.70 52.75 L356.42 52.75 L357.15 52.74 L357.87 52.74 L358.59 52.74 L359.31 52.74 L360.04 52.74 L360.76 52.74 L361.48 52.74 L362.20 52.73 L362.93 52.73 L363.65 52.73 L364.37 52.73 L365.09 52.73 L365.82 52.73 L366.54 52.73 L367.26 52.72 L367.98 52.72 L368.71 52.72 L369.43 52.72 L370.15 52.72 L370.87 52.72 L371.60 52.72 L372.32 52.72 L373.04 52.72 L373.76 52.71 L374.49 52.71 L375.21 52.71 L375.93 52.71 L376.65 52.71 L377.38 52.71 L378.10 52.71 L378.82 52.71 L379.54 52.71 L380.27 52.71 L380.99 52.71 L381.71 52.70 L382.43 52.70 L383.16 52.70 L383.88 52.70 L384.60 52.70 L385.32 52.70 L386.05 52.70 L386.77 52.70 L387.49 52.70 L388.21 52.70 L388.94 52.70 L389.66 52.70 L390.38 52.70 L391.10 52.70 L391.83 52.69 L392.55 52.69 L393.27 52.69 L393.99 52.69 L394.72 52.69 L395.44 52.69 L396.16 52.69 L396.88 52.69 L397.61 52.69 L398.33 52.69 L399.05 52.69 L399.77 52.69 L400.50 52.69 L401.22 52.69 L401.94 52.69 L402.66 52.69 L403.39 52.69 L404.11 52.69 L404.83 52.69 L405.55 52.69 L406.28 52.69 L407.00 52.68 L407.75 52.68" fill="none" stroke="#0000ff" stroke-width="2.0" shape-rendering="crispEdges"/>
<path transform="translate(0.35 0)" d="M44.99 273.70 L45.74 273.70 L46.46 273.43 L47.18 273.12 L47.91 272.79 L48.63 272.44 L49.35 272.05 L50.07 271.63 L50.80 271.18 L51.52 270.70 L52.24 270.18 L52.96 269.62 L53.69 269.03 L54.41 268.40 L55.13 267.73 L55.85 267.02 L56.58 266.28 L57.30 265.49 L58.02 264.66 L58.74 263.78 L59.47 262.87 L60.19 261.91 L60.91 260.91 L61.63 259.86 L62.36 258.78 L63.08 257.65 L63.80 256.48 L64.52 255.27 L65.25 254.01 L65.97 252.72 L66.69 251.39 L67.41 250.01 L68.14 248.60 L68.86 247.15 L69.58 245.67 L70.30 244.15 L71.03 242.60 L71.75 241.01 L72.47 239.39 L73.19 237.74 L73.92 236.07 L74.64 234.36 L75.36 232.63 L76.08 230.88 L76.81 229.10 L77.53 227.30 L78.25 225.48 L78.97 223.64 L79.70 221.78 L80.42 219.91 L81.14 218.03 L81.86 216.13 L82.59 214.22 L83.31 212.30 L84.03 210.37 L84.75 208.43 L85.48 206.49 L86.20 204.54 L86.92 202.60 L87.64 200.64 L88.37 198.69 L89.09 196.74 L89.81 194.79 L90.53 192.84 L91.26 190.90 L91.98 188.96 L92.70 187.03 L93.42 185.10 L94.15 183.18 L94.87 181.27 L95.59 179.37 L96.31 177.48 L97.04 175.60 L97.76 173.73 L98.48 171.88 L99.21 170.03 L99.93 168.21 L100.65 166.39 L101.37 164.59 L102.10 162.81 L102.82 161.04 L103.54 159.29 L104.26 157.55 L104.99 155.83 L105.71 154.13 L106.43 152.44 L107.15 150.78 L107.88 149.13 L108.60 147.50 L109.32 145.89 L110.04 144.30 L110.77 142.73 L111.49 141.17 L112.21 139.64 L112.93 138.12 L113.66 136.63 L114.38 135.15 L115.10 133.69 L115.82 132.26 L116.55 130.84 L117.27 129.44 L117.99 128.06 L118.71 126.70 L119.44 125.36 L120.16 124.05 L120.88 122.74 L121.60 121.46 L122.33 120.20 L123.05 118.96 L123.77 117.74 L124.49 116.53 L125.22 115.35 L125.94 114.18 L126.66 113.03 L127.38 111.90 L128.11 110.79 L128.83 109.69 L129.55 108.62 L130.27 107.56 L131.00 106.52 L131.72 105.49 L132.44 104.49 L133.16 103.50 L133.89 102.52 L134.61 101.57 L135.33 100.63 L136.05 99.70 L136.78 98.79 L137.50 97.90 L138.22 97.03 L138.94 96.17 L139.67 95.32 L140.39 94.49 L141.11 93.67 L141.83 92.87 L142.56 92.08 L143.28 91.31 L144.00 90.55 L144.72 89.81 L145.45 89.08 L146.17 88.36 L146.89 87.65 L147.61 86.96 L148.34 86.28 L149.06 85.62 L149.78 84.96 L150.50 84.32 L151.23 83.69 L151.95 83.07 L152.67 82.47 L153.39 81.87 L154.12 81.29 L154.84 80.71 L155.56 80.15 L156.28 79.60 L157.01 79.06 L157.73 78.53 L158.45 78.01 L159.17 77.50 L159.90 77.00 L160.62 76.51 L161.34 76.03 L162.06 75.56 L162.79 75.09 L163.51 74.64 L164.23 74.19 L164.95 73.76 L165.68 73.33 L166.40 72.91 L167.12 72.50 L167.84 72.10 L168.57 71.70 L169.29 71.31 L170.01 70.93 L170.73 70.56 L171.46 70.20 L172.18 69.84 L172.90 69.49 L173.62 69.14 L174.35 68.81 L175.07 68.48 L175.79 68.15 L176.52 67.84 L177.24 67.53 L177.96 67.22 L178.68 66.92 L179.41 66.63 L180.13 66.34 L180.85 66.06 L181.57 65.79 L182.30 65.52 L183.02 65.25 L183.74 65.00 L184.46 64.74 L185.19 64.49 L185.91 64.25 L186.63 64.01 L187.35 63.78 L188.08 63.55 L188.80 63.32 L189.52 63.10 L190.24 62.89 L190.97 62.68 L191.69 62.47 L192.41 62.27 L193.13 62.07 L193.86 61.88 L194.58 61.68 L195.30 61.50 L196.02 61.32 L196.75 61.14 L197.47 60.96 L198.19 60.79 L198.91 60.62 L199.64 60.46 L200.36 60.29 L201.08 60.14 L201.80 59.98 L202.53 59.83 L203.25 59.68 L203.97 59.54 L204.69 59.39 L205.42 59.25 L206.14 59.12 L206.86 58.98 L207.58 58.85 L208.31 58.72 L209.03 58.60 L209.75 58.47 L210.47 58.35 L211.20 58.24 L211.92 58.12 L212.64 58.01 L213.36 57.89 L214.09 57.79 L214.81 57.68 L215.53 57.58 L216.25 57.47 L216.98 57.37 L217.70 57.27 L218.42 57.18 L219.14 57.08 L219.87 56.99 L220.59 56.90 L221.31 56.81 L222.03 56.73 L222.76 56.64 L223.48 56.56 L224.20 56.48 L224.92 56.40 L225.65 56.32 L226.37 56.25 L227.09 56.17 L227.81 56.10 L228.54 56.03 L229.26 55.96 L229.98 55.89 L230.70 55.82 L231.43 55.75 L232.15 55.69 L232.87 55.63 L233.59 55.57 L234.32 55.50 L235.04 55.45 L235.76 55.39 L236.48 55.33 L237.21 55.27 L237.93 55.22 L238.65 55.17 L239.37 55.11 L240.10 55.06 L240.82 55.01 L241.54 54.96 L242.26 54.92 L242.99 54.87 L243.71 54.82 L244.43 54.78 L245.15 54.73 L245.88 54.69 L246.60 54.65 L247.32 54.61 L248.04 54.57 L248.77 54.53 L249.49 54.49 L250.21 54.45 L250.93 54.41 L251.66 54.38 L252.38 54.34 L253.10 54.31 L253.83 54.27 L254.55 54.24 L255.27 54.20 L255.99 54.17 L256.72 54.14 L257.44 54.11 L258.16 54.08 L258.88 54.05 L259.61 54.02 L260.33 53.99 L261.05 53.97 L261.77 53.94 L262.50 53.91 L263.22 53.89 L263.94 53.86 L264.66 53.83 L265.39 53.81 L266.11 53.79 L266.83 53.76 L267.55 53.74 L268.28 53.72 L269.00 53.70 L269.72 53.67 L270.44 53.65 L271.17 53.63 L271.89 53.61 L272.61 53.59 L273.33 53.57 L274.06 53.55 L274.78 53.54 L275.50 53.52 L276.22 53.50 L276.95 53.48 L277.67 53.46 L278.39 53.45 L279.11 53.43 L279.84 53.42 L280.56 53.40 L281.28 53.38 L282.00 53.37 L282.73 53.35 L283.45 53.34 L284.17 53.33 L284.89 53.31 L285.62 53.30 L286.34 53.29 L287.06 53.27 L287.78 53.26 L288.51 53.25 L289.23 53.24 L289.95 53.22 L290.67 53.21 L291.40 53.20 L292.12 53.19 L292.84 53.18 L293.56 53.17 L294.29 53.16 L295.01 53.15 L295.73 53.14 L296.45 53.13 L297.18 53.12 L297.90 53.11 L298.62 53.10 L299.34 53.09 L300.07 53.08 L300.79 53.07 L301.51 53.06 L302.23 53.06 L302.96 53.05 L303.68 53.04 L304.40 53.03 L305.12 53.02 L305.85 53.02 L306.57 53.01 L307.29 53.00 L308.01 52.99 L308.74 52.99 L309.46 52.98 L310.18 52.97 L310.90 52.97 L311.63 52.96 L312.35 52.96 L313.07 52.95 L313.79 52.94 L314.52 52.94 L315.24 52.93 L315.96 52.93 L316.68 52.92 L317.41 52.92 L318.13 52.91 L318.85 52.91 L319.57 52.90 L320.30 52.90 L321.02 52.89 L321.74 52.89 L322.46 52.88 L323.19 52.88 L323.91 52.87 L324.63 52.87 L325.35 52.86 L326.08 52.86 L326.80 52.86 L327.52 52.85 L328.24 52.85 L328.97 52.84 L329.69 52.84 L330.41 52.84 L331.14 52.83 L331.86 52.83 L332.58 52.83 L333.30 52.82 L334.03 52.82 L334.75 52.82 L335.47 52.81 L336.19 52.81 L336.92 52.81 L337.64 52.80 L338.36 52.80 L339.08 52.80 L339.81 52.80 L340.53 52.79 L341.25 52.79 L341.97 52.79 L342.70 52.79 L343.42 52.78 L344.14 52.78 L344.86 52.78 L345.59 52.78 L346.31 52.77 L347.03 52.77 L347.75 52.77 L348.48 52.77 L349.20 52.76 L349.92 52.76 L350.64 52.76 L351.37 52.76 L352.09 52.76 L352.81 52.75 L353.53 52.75 L354.26 52.75 L354.98 52.75 L355.70 52.75 L356.42 52.75 L357.15 52.74 L357.87 52.74 L358.59 52.74 L359.31 52.74 L360.04 52.74 L360.76 52.74 L361.48 52.74 L362.20 52.73 L362.93 52.73 L363.65 52.73 L364.37 52.73 L365.09 52.73 L365.82 52.73 L366.54 52.73 L367.26 52.72 L367.98 52.72 L368.71 52.72 L369.43 52.72 L370.15 52.72 L370.87 52.72 L371.60 52.72 L372.32 52.72 L373.04 52.72 L373.76 52.71 L374.49 52.71 L375.21 52.71 L375.93 52.71 L376.65 52.71 L377.38 52.71 L378.10 52.71 L378.82 52.71 L379.54 52.71 L380.27 52.71 L380.99 52.71 L381.71 52.70 L382.43 52.70 L383.16 52.70 L383.88 52.70 L384.60 52.70 L385.32 52.70 L386.05 52.70 L386.77 52.70 L387.49 52.70 L388.21 52.70 L388.94 52.70 L389.66 52.70 L390.38 52.70 L391.10 52.70 L391.83 52.69 L392.55 52.69 L393.27 52.69 L393.99 52.69 L394.72 52.69 L395.44 52.69 L396.16 52.69 L396.88 52.69 L397.61 52.69 L398.33 52.69 L399.05 52.69 L399.77 52.69 L400.50 52.69 L401.22 52.69 L401.94 52.69 L402.66 52.69 L403.39 52.69 L404.11 52.69 L404.83 52.69 L405.55 52.69 L406.28 52.69 L407.00 52.68 L407.75 52.68" fill="none" stroke="#0000ff" stroke-width="2.0" shape-rendering="crispEdges"/>
<path d="M44.99 275.53 L45.74 275.53 L46.46 275.46 L47.18 275.38 L47.91 275.28 L48.63 275.18 L49.35 275.06 L50.07 274.93 L50.80 274.78 L51.52 274.62 L52.24 274.44 L52.96 274.25 L53.69 274.03 L54.41 273.80 L55.13 273.54 L55.85 273.27 L56.58 272.97 L57.30 272.64 L58.02 272.29 L58.74 271.91 L59.47 271.51 L60.19 271.08 L60.91 270.61 L61.63 270.12 L62.36 269.60 L63.08 269.04 L63.80 268.46 L64.52 267.84 L65.25 267.19 L65.97 266.50 L66.69 265.78 L67.41 265.03 L68.14 264.24 L68.86 263.41 L69.58 262.56 L70.30 261.67 L71.03 260.74 L71.75 259.78 L72.47 258.79 L73.19 257.77 L73.92 256.71 L74.64 255.62 L75.36 254.51 L76.08 253.36 L76.81 252.18 L77.53 250.97 L78.25 249.74 L78.97 248.47 L79.70 247.19 L80.42 245.87 L81.14 244.54 L81.86 243.18 L82.59 241.80 L83.31 240.40 L84.03 238.98 L84.75 237.55 L85.48 236.09 L86.20 234.63 L86.92 233.14 L87.64 231.65 L88.37 230.14 L89.09 228.62 L89.81 227.09 L90.53 225.55 L91.26 224.01 L91.98 222.46 L92.70 220.90 L93.42 219.35 L94.15 217.78 L94.87 216.22 L95.59 214.65 L96.31 213.09 L97.04 211.52 L97.76 209.96 L98.48 208.40 L99.21 206.84 L99.93 205.29 L100.65 203.74 L101.37 202.20 L102.10 200.67 L102.82 199.14 L103.54 197.62 L104.26 196.11 L104.99 194.61 L105.71 193.11 L106.43 191.63 L107.15 190.16 L107.88 188.70 L108.60 187.25 L109.32 185.81 L110.04 184.39 L110.77 182.98 L111.49 181.58 L112.21 180.20 L112.93 178.83 L113.66 177.47 L114.38 176.13 L115.10 174.80 L115.82 173.49 L116.55 172.19 L117.27 170.91 L117.99 169.64 L118.71 168.39 L119.44 167.15 L120.16 165.93 L120.88 164.72 L121.60 163.53 L122.33 162.36 L123.05 161.20 L123.77 160.05 L124.49 158.93 L125.22 157.81 L125.94 156.72 L126.66 155.64 L127.38 154.57 L128.11 153.52 L128.83 152.49 L129.55 151.47 L130.27 150.47 L131.00 149.48 L131.72 148.51 L132.44 147.55 L133.16 146.61 L133.89 145.68 L134.61 144.77 L135.33 143.87 L136.05 142.99 L136.78 142.12 L137.50 141.26 L138.22 140.42 L138.94 139.60 L139.67 138.78 L140.39 137.98 L141.11 137.20 L141.83 136.42 L142.56 135.66 L143.28 134.92 L144.00 134.19 L144.72 133.46 L145.45 132.76 L146.17 132.06 L146.89 131.38 L147.61 130.71 L148.34 130.05 L149.06 129.40 L149.78 128.76 L150.50 128.14 L151.23 127.53 L151.95 126.92 L152.67 126.33 L153.39 125.75 L154.12 125.18 L154.84 124.62 L155.56 124.08 L156.28 123.54 L157.01 123.01 L157.73 122.49 L158.45 121.98 L159.17 121.48 L159.90 120.99 L160.62 120.51 L161.34 120.04 L162.06 119.57 L162.79 119.12 L163.51 118.67 L164.23 118.24 L164.95 117.81 L165.68 117.39 L166.40 116.98 L167.12 116.57 L167.84 116.17 L168.57 115.78 L169.29 115.40 L170.01 115.03 L170.73 114.66 L171.46 114.30 L172.18 113.95 L172.90 113.60 L173.62 113.26 L174.35 112.93 L175.07 112.61 L175.79 112.29 L176.52 111.97 L177.24 111.67 L177.96 111.37 L178.68 111.07 L179.41 110.78 L180.13 110.50 L180.85 110.22 L181.57 109.95 L182.30 109.68 L183.02 109.42 L183.74 109.16 L184.46 108.91 L185.19 108.66 L185.91 108.42 L186.63 108.19 L187.35 107.96 L188.08 107.73 L188.80 107.51 L189.52 107.29 L190.24 107.07 L190.97 106.86 L191.69 106.66 L192.41 106.46 L193.13 106.26 L193.86 106.07 L194.58 105.88 L195.30 105.69 L196.02 105.51 L196.75 105.33 L197.47 105.16 L198.19 104.99 L198.91 104.82 L199.64 104.66 L200.36 104.50 L201.08 104.34 L201.80 104.19 L202.53 104.04 L203.25 103.89 L203.97 103.74 L204.69 103.60 L205.42 103.46 L206.14 103.33 L206.86 103.19 L207.58 103.06 L208.31 102.93 L209.03 102.81 L209.75 102.69 L210.47 102.57 L211.20 102.45 L211.92 102.33 L212.64 102.22 L213.36 102.11 L214.09 102.00 L214.81 101.89 L215.53 101.79 L216.25 101.69 L216.98 101.59 L217.70 101.49 L218.42 101.40 L219.14 101.30 L219.87 101.21 L220.59 101.12 L221.31 101.03 L222.03 100.95 L222.76 100.86 L223.48 100.78 L224.20 100.70 L224.92 100.62 L225.65 100.54 L226.37 100.47 L227.09 100.39 L227.81 100.32 L228.54 100.25 L229.26 100.18 L229.98 100.11 L230.70 100.04 L231.43 99.98 L232.15 99.91 L232.87 99.85 L233.59 99.79 L234.32 99.73 L235.04 99.67 L235.76 99.61 L236.48 99.55 L237.21 99.50 L237.93 99.44 L238.65 99.39 L239.37 99.34 L240.10 99.29 L240.82 99.24 L241.54 99.19 L242.26 99.14 L242.99 99.09 L243.71 99.05 L244.43 99.00 L245.15 98.96 L245.88 98.91 L246.60 98.87 L247.32 98.83 L248.04 98.79 L248.77 98.75 L249.49 98.71 L250.21 98.67 L250.93 98.64 L251.66 98.60 L252.38 98.56 L253.10 98.53 L253.83 98.49 L254.55 98.46 L255.27 98.43 L255.99 98.40 L256.72 98.36 L257.44 98.33 L258.16 98.30 L258.88 98.27 L259.61 98.25 L260.33 98.22 L261.05 98.19 L261.77 98.16 L262.50 98.14 L263.22 98.11 L263.94 98.08 L264.66 98.06 L265.39 98.03 L266.11 98.01 L266.83 97.99 L267.55 97.96 L268.28 97.94 L269.00 97.92 L269.72 97.90 L270.44 97.88 L271.17 97.86 L271.89 97.84 L272.61 97.82 L273.33 97.80 L274.06 97.78 L274.78 97.76 L275.50 97.74 L276.22 97.72 L276.95 97.71 L277.67 97.69 L278.39 97.67 L279.11 97.66 L279.84 97.64 L280.56 97.62 L281.28 97.61 L282.00 97.59 L282.73 97.58 L283.45 97.56 L284.17 97.55 L284.89 97.54 L285.62 97.52 L286.34 97.51 L287.06 97.50 L287.78 97.48 L288.51 97.47 L289.23 97.46 L289.95 97.45 L290.67 97.44 L291.40 97.42 L292.12 97.41 L292.84 97.40 L293.56 97.39 L294.29 97.38 L295.01 97.37 L295.73 97.36 L296.45 97.35 L297.18 97.34 L297.90 97.33 L298.62 97.32 L299.34 97.31 L300.07 97.31 L300.79 97.30 L301.51 97.29 L302.23 97.28 L302.96 97.27 L303.68 97.26 L304.40 97.26 L305.12 97.25 L305.85 97.24 L306.57 97.23 L307.29 97.23 L308.01 97.22 L308.74 97.21 L309.46 97.21 L310.18 97.20 L310.90 97.19 L311.63 97.19 L312.35 97.18 L313.07 97.17 L313.79 97.17 L314.52 97.16 L315.24 97.16 L315.96 97.15 L316.68 97.15 L317.41 97.14 L318.13 97.13 L318.85 97.13 L319.57 97.12 L320.30 97.12 L321.02 97.12 L321.74 97.11 L322.46 97.11 L323.19 97.10 L323.91 97.10 L324.63 97.09 L325.35 97.09 L326.08 97.08 L326.80 97.08 L327.52 97.08 L328.24 97.07 L328.97 97.07 L329.69 97.06 L330.41 97.06 L331.14 97.06 L331.86 97.05 L332.58 97.05 L333.30 97.05 L334.03 97.04 L334.75 97.04 L335.47 97.04 L336.19 97.03 L336.92 97.03 L337.64 97.03 L338.36 97.03 L339.08 97.02 L339.81 97.02 L340.53 97.02 L341.25 97.01 L341.97 97.01 L342.70 97.01 L343.42 97.01 L344.14 97.00 L344.86 97.00 L345.59 97.00 L346.31 97.00 L347.03 97.00 L347.75 96.99 L348.48 96.99 L349.20 96.99 L349.92 96.99 L350.64 96.99 L351.37 96.98 L352.09 96.98 L352.81 96.98 L353.53 96.98 L354.26 96.98 L354.98 96.97 L355.70 96.97 L356.42 96.97 L357.15 96.97 L357.87 96.97 L358.59 96.97 L359.31 96.96 L360.04 96.96 L360.76 96.96 L361.48 96.96 L362.20 96.96 L362.93 96.96 L363.65 96.96 L364.37 96.95 L365.09 96.95 L365.82 96.95 L366.54 96.95 L367.26 96.95 L367.98 96.95 L368.71 96.95 L369.43 96.95 L370.15 96.94 L370.87 96.94 L371.60 96.94 L372.32 96.94 L373.04 96.94 L373.76 96.94 L374.49 96.94 L375.21 96.94 L375.93 96.94 L376.65 96.93 L377.38 96.93 L378.10 96.93 L378.82 96.93 L379.54 96.93 L380.27 96.93 L380.99 96.93 L381.71 96.93 L382.43 96.93 L383.16 96.93 L383.88 96.93 L384.60 96.93 L385.32 96.93 L386.05 96.92 L386.77 96.92 L387.49 96.92 L388.21 96.92 L388.94 96.92 L389.66 96.92 L390.38 96.92 L391.10 96.92 L391.83 96.92 L392.55 96.92 L393.27 96.92 L393.99 96.92 L394.72 96.92 L395.44 96.92 L396.16 96.92 L396.88 96.92 L397.61 96.91 L398.33 96.91 L399.05 96.91 L399.77 96.91 L400.50 96.91 L401.22 96.91 L401.94 96.91 L402.66 96.91 L403.39 96.91 L404.11 96.91 L404.83 96.91 L405.55 96.91 L406.28 96.91 L407.00 96.91 L407.75 96.91" fill="none" stroke="#ff0000" stroke-width="1.35" stroke-dasharray="6.8 4.57" stroke-dashoffset="0.05" shape-rendering="auto"/>
<path d="M44.99 275.90 L45.74 275.90 L46.46 275.89 L47.18 275.86 L47.91 275.84 L48.63 275.81 L49.35 275.78 L50.07 275.74 L50.80 275.69 L51.52 275.64 L52.24 275.58 L52.96 275.52 L53.69 275.44 L54.41 275.36 L55.13 275.27 L55.85 275.16 L56.58 275.05 L57.30 274.92 L58.02 274.78 L58.74 274.63 L59.47 274.45 L60.19 274.27 L60.91 274.06 L61.63 273.84 L62.36 273.60 L63.08 273.34 L63.80 273.06 L64.52 272.76 L65.25 272.43 L65.97 272.08 L66.69 271.71 L67.41 271.31 L68.14 270.89 L68.86 270.44 L69.58 269.97 L70.30 269.46 L71.03 268.93 L71.75 268.38 L72.47 267.79 L73.19 267.18 L73.92 266.53 L74.64 265.86 L75.36 265.16 L76.08 264.43 L76.81 263.68 L77.53 262.89 L78.25 262.08 L78.97 261.24 L79.70 260.37 L80.42 259.47 L81.14 258.55 L81.86 257.61 L82.59 256.64 L83.31 255.64 L84.03 254.62 L84.75 253.58 L85.48 252.52 L86.20 251.43 L86.92 250.33 L87.64 249.21 L88.37 248.06 L89.09 246.91 L89.81 245.73 L90.53 244.54 L91.26 243.33 L91.98 242.11 L92.70 240.88 L93.42 239.64 L94.15 238.38 L94.87 237.12 L95.59 235.85 L96.31 234.57 L97.04 233.28 L97.76 231.99 L98.48 230.70 L99.21 229.40 L99.93 228.09 L100.65 226.79 L101.37 225.48 L102.10 224.17 L102.82 222.87 L103.54 221.56 L104.26 220.26 L104.99 218.96 L105.71 217.66 L106.43 216.37 L107.15 215.08 L107.88 213.79 L108.60 212.51 L109.32 211.24 L110.04 209.98 L110.77 208.72 L111.49 207.47 L112.21 206.23 L112.93 204.99 L113.66 203.77 L114.38 202.56 L115.10 201.35 L115.82 200.16 L116.55 198.97 L117.27 197.80 L117.99 196.64 L118.71 195.49 L119.44 194.35 L120.16 193.22 L120.88 192.11 L121.60 191.01 L122.33 189.92 L123.05 188.84 L123.77 187.77 L124.49 186.72 L125.22 185.68 L125.94 184.66 L126.66 183.64 L127.38 182.64 L128.11 181.66 L128.83 180.68 L129.55 179.72 L130.27 178.77 L131.00 177.84 L131.72 176.91 L132.44 176.01 L133.16 175.11 L133.89 174.23 L134.61 173.36 L135.33 172.50 L136.05 171.66 L136.78 170.83 L137.50 170.01 L138.22 169.20 L138.94 168.41 L139.67 167.63 L140.39 166.86 L141.11 166.10 L141.83 165.36 L142.56 164.63 L143.28 163.91 L144.00 163.20 L144.72 162.50 L145.45 161.82 L146.17 161.15 L146.89 160.48 L147.61 159.83 L148.34 159.19 L149.06 158.56 L149.78 157.95 L150.50 157.34 L151.23 156.74 L151.95 156.16 L152.67 155.58 L153.39 155.02 L154.12 154.46 L154.84 153.91 L155.56 153.38 L156.28 152.85 L157.01 152.34 L157.73 151.83 L158.45 151.33 L159.17 150.84 L159.90 150.36 L160.62 149.89 L161.34 149.43 L162.06 148.97 L162.79 148.53 L163.51 148.09 L164.23 147.66 L164.95 147.24 L165.68 146.83 L166.40 146.42 L167.12 146.02 L167.84 145.63 L168.57 145.25 L169.29 144.87 L170.01 144.50 L170.73 144.14 L171.46 143.79 L172.18 143.44 L172.90 143.10 L173.62 142.77 L174.35 142.44 L175.07 142.12 L175.79 141.80 L176.52 141.49 L177.24 141.19 L177.96 140.89 L178.68 140.60 L179.41 140.31 L180.13 140.03 L180.85 139.76 L181.57 139.49 L182.30 139.22 L183.02 138.96 L183.74 138.71 L184.46 138.46 L185.19 138.22 L185.91 137.98 L186.63 137.74 L187.35 137.51 L188.08 137.29 L188.80 137.07 L189.52 136.85 L190.24 136.64 L190.97 136.43 L191.69 136.23 L192.41 136.03 L193.13 135.83 L193.86 135.64 L194.58 135.45 L195.30 135.27 L196.02 135.09 L196.75 134.91 L197.47 134.74 L198.19 134.57 L198.91 134.40 L199.64 134.24 L200.36 134.08 L201.08 133.92 L201.80 133.77 L202.53 133.62 L203.25 133.47 L203.97 133.33 L204.69 133.19 L205.42 133.05 L206.14 132.92 L206.86 132.78 L207.58 132.65 L208.31 132.53 L209.03 132.40 L209.75 132.28 L210.47 132.16 L211.20 132.04 L211.92 131.93 L212.64 131.81 L213.36 131.70 L214.09 131.60 L214.81 131.49 L215.53 131.39 L216.25 131.29 L216.98 131.19 L217.70 131.09 L218.42 130.99 L219.14 130.90 L219.87 130.81 L220.59 130.72 L221.31 130.63 L222.03 130.55 L222.76 130.46 L223.48 130.38 L224.20 130.30 L224.92 130.22 L225.65 130.14 L226.37 130.07 L227.09 129.99 L227.81 129.92 L228.54 129.85 L229.26 129.78 L229.98 129.71 L230.70 129.64 L231.43 129.58 L232.15 129.51 L232.87 129.45 L233.59 129.39 L234.32 129.33 L235.04 129.27 L235.76 129.21 L236.48 129.15 L237.21 129.10 L237.93 129.04 L238.65 128.99 L239.37 128.94 L240.10 128.89 L240.82 128.84 L241.54 128.79 L242.26 128.74 L242.99 128.70 L243.71 128.65 L244.43 128.60 L245.15 128.56 L245.88 128.52 L246.60 128.48 L247.32 128.43 L248.04 128.39 L248.77 128.35 L249.49 128.31 L250.21 128.28 L250.93 128.24 L251.66 128.20 L252.38 128.17 L253.10 128.13 L253.83 128.10 L254.55 128.06 L255.27 128.03 L255.99 128.00 L256.72 127.97 L257.44 127.94 L258.16 127.91 L258.88 127.88 L259.61 127.85 L260.33 127.82 L261.05 127.79 L261.77 127.77 L262.50 127.74 L263.22 127.71 L263.94 127.69 L264.66 127.66 L265.39 127.64 L266.11 127.61 L266.83 127.59 L267.55 127.57 L268.28 127.55 L269.00 127.52 L269.72 127.50 L270.44 127.48 L271.17 127.46 L271.89 127.44 L272.61 127.42 L273.33 127.40 L274.06 127.38 L274.78 127.36 L275.50 127.35 L276.22 127.33 L276.95 127.31 L277.67 127.29 L278.39 127.28 L279.11 127.26 L279.84 127.24 L280.56 127.23 L281.28 127.21 L282.00 127.20 L282.73 127.18 L283.45 127.17 L284.17 127.16 L284.89 127.14 L285.62 127.13 L286.34 127.11 L287.06 127.10 L287.78 127.09 L288.51 127.08 L289.23 127.06 L289.95 127.05 L290.67 127.04 L291.40 127.03 L292.12 127.02 L292.84 127.01 L293.56 127.00 L294.29 126.99 L295.01 126.98 L295.73 126.97 L296.45 126.96 L297.18 126.95 L297.90 126.94 L298.62 126.93 L299.34 126.92 L300.07 126.91 L300.79 126.90 L301.51 126.89 L302.23 126.88 L302.96 126.88 L303.68 126.87 L304.40 126.86 L305.12 126.85 L305.85 126.85 L306.57 126.84 L307.29 126.83 L308.01 126.82 L308.74 126.82 L309.46 126.81 L310.18 126.80 L310.90 126.80 L311.63 126.79 L312.35 126.78 L313.07 126.78 L313.79 126.77 L314.52 126.77 L315.24 126.76 L315.96 126.76 L316.68 126.75 L317.41 126.74 L318.13 126.74 L318.85 126.73 L319.57 126.73 L320.30 126.72 L321.02 126.72 L321.74 126.72 L322.46 126.71 L323.19 126.71 L323.91 126.70 L324.63 126.70 L325.35 126.69 L326.08 126.69 L326.80 126.68 L327.52 126.68 L328.24 126.68 L328.97 126.67 L329.69 126.67 L330.41 126.67 L331.14 126.66 L331.86 126.66 L332.58 126.66 L333.30 126.65 L334.03 126.65 L334.75 126.65 L335.47 126.64 L336.19 126.64 L336.92 126.64 L337.64 126.63 L338.36 126.63 L339.08 126.63 L339.81 126.62 L340.53 126.62 L341.25 126.62 L341.97 126.62 L342.70 126.61 L343.42 126.61 L344.14 126.61 L344.86 126.61 L345.59 126.60 L346.31 126.60 L347.03 126.60 L347.75 126.60 L348.48 126.60 L349.20 126.59 L349.92 126.59 L350.64 126.59 L351.37 126.59 L352.09 126.59 L352.81 126.58 L353.53 126.58 L354.26 126.58 L354.98 126.58 L355.70 126.58 L356.42 126.58 L357.15 126.57 L357.87 126.57 L358.59 126.57 L359.31 126.57 L360.04 126.57 L360.76 126.57 L361.48 126.56 L362.20 126.56 L362.93 126.56 L363.65 126.56 L364.37 126.56 L365.09 126.56 L365.82 126.56 L366.54 126.55 L367.26 126.55 L367.98 126.55 L368.71 126.55 L369.43 126.55 L370.15 126.55 L370.87 126.55 L371.60 126.55 L372.32 126.55 L373.04 126.54 L373.76 126.54 L374.49 126.54 L375.21 126.54 L375.93 126.54 L376.65 126.54 L377.38 126.54 L378.10 126.54 L378.82 126.54 L379.54 126.54 L380.27 126.54 L380.99 126.53 L381.71 126.53 L382.43 126.53 L383.16 126.53 L383.88 126.53 L384.60 126.53 L385.32 126.53 L386.05 126.53 L386.77 126.53 L387.49 126.53 L388.21 126.53 L388.94 126.53 L389.66 126.53 L390.38 126.53 L391.10 126.52 L391.83 126.52 L392.55 126.52 L393.27 126.52 L393.99 126.52 L394.72 126.52 L395.44 126.52 L396.16 126.52 L396.88 126.52 L397.61 126.52 L398.33 126.52 L399.05 126.52 L399.77 126.52 L400.50 126.52 L401.22 126.52 L401.94 126.52 L402.66 126.52 L403.39 126.52 L404.11 126.52 L404.83 126.52 L405.55 126.51 L406.28 126.51 L407.00 126.51 L407.75 126.51" fill="none" stroke="#00c000" stroke-width="1.3" stroke-dasharray="2.2 2.75" stroke-dashoffset="-0.15" shape-rendering="crispEdges"/>
<path transform="translate(-0.35 0)" d="M44.99 275.98 L45.74 275.98 L46.46 275.98 L47.18 275.97 L47.91 275.96 L48.63 275.96 L49.35 275.95 L50.07 275.93 L50.80 275.92 L51.52 275.91 L52.24 275.89 L52.96 275.87 L53.69 275.84 L54.41 275.81 L55.13 275.78 L55.85 275.74 L56.58 275.70 L57.30 275.65 L58.02 275.60 L58.74 275.54 L59.47 275.47 L60.19 275.39 L60.91 275.30 L61.63 275.21 L62.36 275.10 L63.08 274.98 L63.80 274.85 L64.52 274.71 L65.25 274.55 L65.97 274.38 L66.69 274.19 L67.41 273.99 L68.14 273.77 L68.86 273.53 L69.58 273.28 L70.30 273.00 L71.03 272.71 L71.75 272.39 L72.47 272.06 L73.19 271.70 L73.92 271.32 L74.64 270.91 L75.36 270.49 L76.08 270.04 L76.81 269.56 L77.53 269.07 L78.25 268.55 L78.97 268.00 L79.70 267.43 L80.42 266.83 L81.14 266.21 L81.86 265.57 L82.59 264.90 L83.31 264.21 L84.03 263.49 L84.75 262.75 L85.48 261.99 L86.20 261.20 L86.92 260.40 L87.64 259.57 L88.37 258.72 L89.09 257.85 L89.81 256.96 L90.53 256.05 L91.26 255.13 L91.98 254.18 L92.70 253.22 L93.42 252.24 L94.15 251.25 L94.87 250.25 L95.59 249.23 L96.31 248.19 L97.04 247.15 L97.76 246.10 L98.48 245.03 L99.21 243.96 L99.93 242.87 L100.65 241.78 L101.37 240.69 L102.10 239.59 L102.82 238.48 L103.54 237.37 L104.26 236.25 L104.99 235.13 L105.71 234.01 L106.43 232.89 L107.15 231.77 L107.88 230.65 L108.60 229.53 L109.32 228.41 L110.04 227.29 L110.77 226.18 L111.49 225.07 L112.21 223.96 L112.93 222.86 L113.66 221.76 L114.38 220.67 L115.10 219.58 L115.82 218.50 L116.55 217.42 L117.27 216.36 L117.99 215.30 L118.71 214.25 L119.44 213.20 L120.16 212.17 L120.88 211.14 L121.60 210.12 L122.33 209.11 L123.05 208.11 L123.77 207.13 L124.49 206.15 L125.22 205.18 L125.94 204.22 L126.66 203.27 L127.38 202.33 L128.11 201.40 L128.83 200.49 L129.55 199.58 L130.27 198.69 L131.00 197.81 L131.72 196.93 L132.44 196.07 L133.16 195.22 L133.89 194.38 L134.61 193.56 L135.33 192.74 L136.05 191.94 L136.78 191.14 L137.50 190.36 L138.22 189.59 L138.94 188.83 L139.67 188.08 L140.39 187.34 L141.11 186.62 L141.83 185.90 L142.56 185.19 L143.28 184.50 L144.00 183.82 L144.72 183.15 L145.45 182.48 L146.17 181.83 L146.89 181.19 L147.61 180.56 L148.34 179.94 L149.06 179.33 L149.78 178.73 L150.50 178.14 L151.23 177.56 L151.95 176.99 L152.67 176.43 L153.39 175.88 L154.12 175.34 L154.84 174.81 L155.56 174.28 L156.28 173.77 L157.01 173.27 L157.73 172.77 L158.45 172.28 L159.17 171.80 L159.90 171.33 L160.62 170.87 L161.34 170.42 L162.06 169.97 L162.79 169.54 L163.51 169.11 L164.23 168.69 L164.95 168.27 L165.68 167.87 L166.40 167.47 L167.12 167.08 L167.84 166.69 L168.57 166.31 L169.29 165.94 L170.01 165.58 L170.73 165.23 L171.46 164.88 L172.18 164.53 L172.90 164.20 L173.62 163.87 L174.35 163.54 L175.07 163.23 L175.79 162.91 L176.52 162.61 L177.24 162.31 L177.96 162.01 L178.68 161.73 L179.41 161.44 L180.13 161.17 L180.85 160.89 L181.57 160.63 L182.30 160.37 L183.02 160.11 L183.74 159.86 L184.46 159.61 L185.19 159.37 L185.91 159.13 L186.63 158.90 L187.35 158.67 L188.08 158.45 L188.80 158.23 L189.52 158.02 L190.24 157.81 L190.97 157.60 L191.69 157.40 L192.41 157.20 L193.13 157.01 L193.86 156.82 L194.58 156.63 L195.30 156.45 L196.02 156.27 L196.75 156.09 L197.47 155.92 L198.19 155.75 L198.91 155.59 L199.64 155.42 L200.36 155.27 L201.08 155.11 L201.80 154.96 L202.53 154.81 L203.25 154.66 L203.97 154.52 L204.69 154.38 L205.42 154.24 L206.14 154.11 L206.86 153.97 L207.58 153.84 L208.31 153.72 L209.03 153.59 L209.75 153.47 L210.47 153.35 L211.20 153.24 L211.92 153.12 L212.64 153.01 L213.36 152.90 L214.09 152.79 L214.81 152.69 L215.53 152.58 L216.25 152.48 L216.98 152.38 L217.70 152.29 L218.42 152.19 L219.14 152.10 L219.87 152.01 L220.59 151.92 L221.31 151.83 L222.03 151.75 L222.76 151.66 L223.48 151.58 L224.20 151.50 L224.92 151.42 L225.65 151.34 L226.37 151.27 L227.09 151.19 L227.81 151.12 L228.54 151.05 L229.26 150.98 L229.98 150.91 L230.70 150.85 L231.43 150.78 L232.15 150.72 L232.87 150.65 L233.59 150.59 L234.32 150.53 L235.04 150.47 L235.76 150.41 L236.48 150.36 L237.21 150.30 L237.93 150.25 L238.65 150.20 L239.37 150.14 L240.10 150.09 L240.82 150.04 L241.54 149.99 L242.26 149.95 L242.99 149.90 L243.71 149.85 L244.43 149.81 L245.15 149.77 L245.88 149.72 L246.60 149.68 L247.32 149.64 L248.04 149.60 L248.77 149.56 L249.49 149.52 L250.21 149.48 L250.93 149.44 L251.66 149.41 L252.38 149.37 L253.10 149.34 L253.83 149.30 L254.55 149.27 L255.27 149.24 L255.99 149.21 L256.72 149.17 L257.44 149.14 L258.16 149.11 L258.88 149.08 L259.61 149.05 L260.33 149.03 L261.05 149.00 L261.77 148.97 L262.50 148.95 L263.22 148.92 L263.94 148.89 L264.66 148.87 L265.39 148.84 L266.11 148.82 L266.83 148.80 L267.55 148.77 L268.28 148.75 L269.00 148.73 L269.72 148.71 L270.44 148.69 L271.17 148.67 L271.89 148.65 L272.61 148.63 L273.33 148.61 L274.06 148.59 L274.78 148.57 L275.50 148.55 L276.22 148.53 L276.95 148.52 L277.67 148.50 L278.39 148.48 L279.11 148.47 L279.84 148.45 L280.56 148.43 L281.28 148.42 L282.00 148.40 L282.73 148.39 L283.45 148.38 L284.17 148.36 L284.89 148.35 L285.62 148.33 L286.34 148.32 L287.06 148.31 L287.78 148.30 L288.51 148.28 L289.23 148.27 L289.95 148.26 L290.67 148.25 L291.40 148.24 L292.12 148.22 L292.84 148.21 L293.56 148.20 L294.29 148.19 L295.01 148.18 L295.73 148.17 L296.45 148.16 L297.18 148.15 L297.90 148.14 L298.62 148.13 L299.34 148.12 L300.07 148.12 L300.79 148.11 L301.51 148.10 L302.23 148.09 L302.96 148.08 L303.68 148.07 L304.40 148.07 L305.12 148.06 L305.85 148.05 L306.57 148.04 L307.29 148.04 L308.01 148.03 L308.74 148.02 L309.46 148.02 L310.18 148.01 L310.90 148.00 L311.63 148.00 L312.35 147.99 L313.07 147.98 L313.79 147.98 L314.52 147.97 L315.24 147.97 L315.96 147.96 L316.68 147.96 L317.41 147.95 L318.13 147.95 L318.85 147.94 L319.57 147.94 L320.30 147.93 L321.02 147.93 L321.74 147.92 L322.46 147.92 L323.19 147.91 L323.91 147.91 L324.63 147.90 L325.35 147.90 L326.08 147.90 L326.80 147.89 L327.52 147.89 L328.24 147.88 L328.97 147.88 L329.69 147.88 L330.41 147.87 L331.14 147.87 L331.86 147.87 L332.58 147.86 L333.30 147.86 L334.03 147.86 L334.75 147.85 L335.47 147.85 L336.19 147.85 L336.92 147.84 L337.64 147.84 L338.36 147.84 L339.08 147.83 L339.81 147.83 L340.53 147.83 L341.25 147.83 L341.97 147.82 L342.70 147.82 L343.42 147.82 L344.14 147.82 L344.86 147.81 L345.59 147.81 L346.31 147.81 L347.03 147.81 L347.75 147.80 L348.48 147.80 L349.20 147.80 L349.92 147.80 L350.64 147.80 L351.37 147.79 L352.09 147.79 L352.81 147.79 L353.53 147.79 L354.26 147.79 L354.98 147.78 L355.70 147.78 L356.42 147.78 L357.15 147.78 L357.87 147.78 L358.59 147.78 L359.31 147.77 L360.04 147.77 L360.76 147.77 L361.48 147.77 L362.20 147.77 L362.93 147.77 L363.65 147.77 L364.37 147.76 L365.09 147.76 L365.82 147.76 L366.54 147.76 L367.26 147.76 L367.98 147.76 L368.71 147.76 L369.43 147.76 L370.15 147.76 L370.87 147.75 L371.60 147.75 L372.32 147.75 L373.04 147.75 L373.76 147.75 L374.49 147.75 L375.21 147.75 L375.93 147.75 L376.65 147.75 L377.38 147.75 L378.10 147.74 L378.82 147.74 L379.54 147.74 L380.27 147.74 L380.99 147.74 L381.71 147.74 L382.43 147.74 L383.16 147.74 L383.88 147.74 L384.60 147.74 L385.32 147.74 L386.05 147.74 L386.77 147.73 L387.49 147.73 L388.21 147.73 L388.94 147.73 L389.66 147.73 L390.38 147.73 L391.10 147.73 L391.83 147.73 L392.55 147.73 L393.27 147.73 L393.99 147.73 L394.72 147.73 L395.44 147.73 L396.16 147.73 L396.88 147.73 L397.61 147.73 L398.33 147.73 L399.05 147.72 L399.77 147.72 L400.50 147.72 L401.22 147.72 L401.94 147.72 L402.66 147.72 L403.39 147.72 L404.11 147.72 L404.83 147.72 L405.55 147.72 L406.28 147.72 L407.00 147.72 L407.75 147.72" fill="none" stroke="#ff00ff" stroke-width="2.0" stroke-dasharray="19.1 4.1" stroke-dashoffset="-0.75" shape-rendering="crispEdges"/>
<path transform="translate(0.35 0)" d="M44.99 275.98 L45.74 275.98 L46.46 275.98 L47.18 275.97 L47.91 275.96 L48.63 275.96 L49.35 275.95 L50.07 275.93 L50.80 275.92 L51.52 275.91 L52.24 275.89 L52.96 275.87 L53.69 275.84 L54.41 275.81 L55.13 275.78 L55.85 275.74 L56.58 275.70 L57.30 275.65 L58.02 275.60 L58.74 275.54 L59.47 275.47 L60.19 275.39 L60.91 275.30 L61.63 275.21 L62.36 275.10 L63.08 274.98 L63.80 274.85 L64.52 274.71 L65.25 274.55 L65.97 274.38 L66.69 274.19 L67.41 273.99 L68.14 273.77 L68.86 273.53 L69.58 273.28 L70.30 273.00 L71.03 272.71 L71.75 272.39 L72.47 272.06 L73.19 271.70 L73.92 271.32 L74.64 270.91 L75.36 270.49 L76.08 270.04 L76.81 269.56 L77.53 269.07 L78.25 268.55 L78.97 268.00 L79.70 267.43 L80.42 266.83 L81.14 266.21 L81.86 265.57 L82.59 264.90 L83.31 264.21 L84.03 263.49 L84.75 262.75 L85.48 261.99 L86.20 261.20 L86.92 260.40 L87.64 259.57 L88.37 258.72 L89.09 257.85 L89.81 256.96 L90.53 256.05 L91.26 255.13 L91.98 254.18 L92.70 253.22 L93.42 252.24 L94.15 251.25 L94.87 250.25 L95.59 249.23 L96.31 248.19 L97.04 247.15 L97.76 246.10 L98.48 245.03 L99.21 243.96 L99.93 242.87 L100.65 241.78 L101.37 240.69 L102.10 239.59 L102.82 238.48 L103.54 237.37 L104.26 236.25 L104.99 235.13 L105.71 234.01 L106.43 232.89 L107.15 231.77 L107.88 230.65 L108.60 229.53 L109.32 228.41 L110.04 227.29 L110.77 226.18 L111.49 225.07 L112.21 223.96 L112.93 222.86 L113.66 221.76 L114.38 220.67 L115.10 219.58 L115.82 218.50 L116.55 217.42 L117.27 216.36 L117.99 215.30 L118.71 214.25 L119.44 213.20 L120.16 212.17 L120.88 211.14 L121.60 210.12 L122.33 209.11 L123.05 208.11 L123.77 207.13 L124.49 206.15 L125.22 205.18 L125.94 204.22 L126.66 203.27 L127.38 202.33 L128.11 201.40 L128.83 200.49 L129.55 199.58 L130.27 198.69 L131.00 197.81 L131.72 196.93 L132.44 196.07 L133.16 195.22 L133.89 194.38 L134.61 193.56 L135.33 192.74 L136.05 191.94 L136.78 191.14 L137.50 190.36 L138.22 189.59 L138.94 188.83 L139.67 188.08 L140.39 187.34 L141.11 186.62 L141.83 185.90 L142.56 185.19 L143.28 184.50 L144.00 183.82 L144.72 183.15 L145.45 182.48 L146.17 181.83 L146.89 181.19 L147.61 180.56 L148.34 179.94 L149.06 179.33 L149.78 178.73 L150.50 178.14 L151.23 177.56 L151.95 176.99 L152.67 176.43 L153.39 175.88 L154.12 175.34 L154.84 174.81 L155.56 174.28 L156.28 173.77 L157.01 173.27 L157.73 172.77 L158.45 172.28 L159.17 171.80 L159.90 171.33 L160.62 170.87 L161.34 170.42 L162.06 169.97 L162.79 169.54 L163.51 169.11 L164.23 168.69 L164.95 168.27 L165.68 167.87 L166.40 167.47 L167.12 167.08 L167.84 166.69 L168.57 166.31 L169.29 165.94 L170.01 165.58 L170.73 165.23 L171.46 164.88 L172.18 164.53 L172.90 164.20 L173.62 163.87 L174.35 163.54 L175.07 163.23 L175.79 162.91 L176.52 162.61 L177.24 162.31 L177.96 162.01 L178.68 161.73 L179.41 161.44 L180.13 161.17 L180.85 160.89 L181.57 160.63 L182.30 160.37 L183.02 160.11 L183.74 159.86 L184.46 159.61 L185.19 159.37 L185.91 159.13 L186.63 158.90 L187.35 158.67 L188.08 158.45 L188.80 158.23 L189.52 158.02 L190.24 157.81 L190.97 157.60 L191.69 157.40 L192.41 157.20 L193.13 157.01 L193.86 156.82 L194.58 156.63 L195.30 156.45 L196.02 156.27 L196.75 156.09 L197.47 155.92 L198.19 155.75 L198.91 155.59 L199.64 155.42 L200.36 155.27 L201.08 155.11 L201.80 154.96 L202.53 154.81 L203.25 154.66 L203.97 154.52 L204.69 154.38 L205.42 154.24 L206.14 154.11 L206.86 153.97 L207.58 153.84 L208.31 153.72 L209.03 153.59 L209.75 153.47 L210.47 153.35 L211.20 153.24 L211.92 153.12 L212.64 153.01 L213.36 152.90 L214.09 152.79 L214.81 152.69 L215.53 152.58 L216.25 152.48 L216.98 152.38 L217.70 152.29 L218.42 152.19 L219.14 152.10 L219.87 152.01 L220.59 151.92 L221.31 151.83 L222.03 151.75 L222.76 151.66 L223.48 151.58 L224.20 151.50 L224.92 151.42 L225.65 151.34 L226.37 151.27 L227.09 151.19 L227.81 151.12 L228.54 151.05 L229.26 150.98 L229.98 150.91 L230.70 150.85 L231.43 150.78 L232.15 150.72 L232.87 150.65 L233.59 150.59 L234.32 150.53 L235.04 150.47 L235.76 150.41 L236.48 150.36 L237.21 150.30 L237.93 150.25 L238.65 150.20 L239.37 150.14 L240.10 150.09 L240.82 150.04 L241.54 149.99 L242.26 149.95 L242.99 149.90 L243.71 149.85 L244.43 149.81 L245.15 149.77 L245.88 149.72 L246.60 149.68 L247.32 149.64 L248.04 149.60 L248.77 149.56 L249.49 149.52 L250.21 149.48 L250.93 149.44 L251.66 149.41 L252.38 149.37 L253.10 149.34 L253.83 149.30 L254.55 149.27 L255.27 149.24 L255.99 149.21 L256.72 149.17 L257.44 149.14 L258.16 149.11 L258.88 149.08 L259.61 149.05 L260.33 149.03 L261.05 149.00 L261.77 148.97 L262.50 148.95 L263.22 148.92 L263.94 148.89 L264.66 148.87 L265.39 148.84 L266.11 148.82 L266.83 148.80 L267.55 148.77 L268.28 148.75 L269.00 148.73 L269.72 148.71 L270.44 148.69 L271.17 148.67 L271.89 148.65 L272.61 148.63 L273.33 148.61 L274.06 148.59 L274.78 148.57 L275.50 148.55 L276.22 148.53 L276.95 148.52 L277.67 148.50 L278.39 148.48 L279.11 148.47 L279.84 148.45 L280.56 148.43 L281.28 148.42 L282.00 148.40 L282.73 148.39 L283.45 148.38 L284.17 148.36 L284.89 148.35 L285.62 148.33 L286.34 148.32 L287.06 148.31 L287.78 148.30 L288.51 148.28 L289.23 148.27 L289.95 148.26 L290.67 148.25 L291.40 148.24 L292.12 148.22 L292.84 148.21 L293.56 148.20 L294.29 148.19 L295.01 148.18 L295.73 148.17 L296.45 148.16 L297.18 148.15 L297.90 148.14 L298.62 148.13 L299.34 148.12 L300.07 148.12 L300.79 148.11 L301.51 148.10 L302.23 148.09 L302.96 148.08 L303.68 148.07 L304.40 148.07 L305.12 148.06 L305.85 148.05 L306.57 148.04 L307.29 148.04 L308.01 148.03 L308.74 148.02 L309.46 148.02 L310.18 148.01 L310.90 148.00 L311.63 148.00 L312.35 147.99 L313.07 147.98 L313.79 147.98 L314.52 147.97 L315.24 147.97 L315.96 147.96 L316.68 147.96 L317.41 147.95 L318.13 147.95 L318.85 147.94 L319.57 147.94 L320.30 147.93 L321.02 147.93 L321.74 147.92 L322.46 147.92 L323.19 147.91 L323.91 147.91 L324.63 147.90 L325.35 147.90 L326.08 147.90 L326.80 147.89 L327.52 147.89 L328.24 147.88 L328.97 147.88 L329.69 147.88 L330.41 147.87 L331.14 147.87 L331.86 147.87 L332.58 147.86 L333.30 147.86 L334.03 147.86 L334.75 147.85 L335.47 147.85 L336.19 147.85 L336.92 147.84 L337.64 147.84 L338.36 147.84 L339.08 147.83 L339.81 147.83 L340.53 147.83 L341.25 147.83 L341.97 147.82 L342.70 147.82 L343.42 147.82 L344.14 147.82 L344.86 147.81 L345.59 147.81 L346.31 147.81 L347.03 147.81 L347.75 147.80 L348.48 147.80 L349.20 147.80 L349.92 147.80 L350.64 147.80 L351.37 147.79 L352.09 147.79 L352.81 147.79 L353.53 147.79 L354.26 147.79 L354.98 147.78 L355.70 147.78 L356.42 147.78 L357.15 147.78 L357.87 147.78 L358.59 147.78 L359.31 147.77 L360.04 147.77 L360.76 147.77 L361.48 147.77 L362.20 147.77 L362.93 147.77 L363.65 147.77 L364.37 147.76 L365.09 147.76 L365.82 147.76 L366.54 147.76 L367.26 147.76 L367.98 147.76 L368.71 147.76 L369.43 147.76 L370.15 147.76 L370.87 147.75 L371.60 147.75 L372.32 147.75 L373.04 147.75 L373.76 147.75 L374.49 147.75 L375.21 147.75 L375.93 147.75 L376.65 147.75 L377.38 147.75 L378.10 147.74 L378.82 147.74 L379.54 147.74 L380.27 147.74 L380.99 147.74 L381.71 147.74 L382.43 147.74 L383.16 147.74 L383.88 147.74 L384.60 147.74 L385.32 147.74 L386.05 147.74 L386.77 147.73 L387.49 147.73 L388.21 147.73 L388.94 147.73 L389.66 147.73 L390.38 147.73 L391.10 147.73 L391.83 147.73 L392.55 147.73 L393.27 147.73 L393.99 147.73 L394.72 147.73 L395.44 147.73 L396.16 147.73 L396.88 147.73 L397.61 147.73 L398.33 147.73 L399.05 147.72 L399.77 147.72 L400.50 147.72 L401.22 147.72 L401.94 147.72 L402.66 147.72 L403.39 147.72 L404.11 147.72 L404.83 147.72 L405.55 147.72 L406.28 147.72 L407.00 147.72 L407.75 147.72" fill="none" stroke="#ff00ff" stroke-width="2.0" stroke-dasharray="19.1 4.1" stroke-dashoffset="-0.75" shape-rendering="crispEdges"/>
<g>
<text x="41.20" y="280.35" font-size="12.4" fill="#313131" stroke="#313131" stroke-width="0" text-anchor="end" textLength="5.20" lengthAdjust="spacingAndGlyphs">0</text>
<text x="41.20" y="262.26" font-size="12.4" fill="#313131" stroke="#313131" stroke-width="0" text-anchor="end" textLength="25.80" lengthAdjust="spacingAndGlyphs">0.001</text>
<text x="41.20" y="244.17" font-size="12.4" fill="#313131" stroke="#313131" stroke-width="0" text-anchor="end" textLength="25.80" lengthAdjust="spacingAndGlyphs">0.002</text>
<text x="41.20" y="226.08" font-size="12.4" fill="#313131" stroke="#313131" stroke-width="0" text-anchor="end" textLength="25.80" lengthAdjust="spacingAndGlyphs">0.003</text>
<text x="41.20" y="207.99" font-size="12.4" fill="#313131" stroke="#313131" stroke-width="0" text-anchor="end" textLength="25.80" lengthAdjust="spacingAndGlyphs">0.004</text>
<text x="41.20" y="189.90" font-size="12.4" fill="#313131" stroke="#313131" stroke-width="0" text-anchor="end" textLength="25.80" lengthAdjust="spacingAndGlyphs">0.005</text>
<text x="41.20" y="171.81" font-size="12.4" fill="#313131" stroke="#313131" stroke-width="0" text-anchor="end" textLength="25.80" lengthAdjust="spacingAndGlyphs">0.006</text>
<text x="41.20" y="153.72" font-size="12.4" fill="#313131" stroke="#313131" stroke-width="0" text-anchor="end" textLength="25.80" lengthAdjust="spacingAndGlyphs">0.007</text>
<text x="41.20" y="135.63" font-size="12.4" fill="#313131" stroke="#313131" stroke-width="0" text-anchor="end" textLength="25.80" lengthAdjust="spacingAndGlyphs">0.008</text>
<text x="41.20" y="117.54" font-size="12.4" fill="#313131" stroke="#313131" stroke-width="0" text-anchor="end" textLength="25.80" lengthAdjust="spacingAndGlyphs">0.009</text>
<text x="41.20" y="99.45" font-size="12.4" fill="#313131" stroke="#313131" stroke-width="0" text-anchor="end" textLength="19.60" lengthAdjust="spacingAndGlyphs">0.01</text>
<text x="41.20" y="81.36" font-size="12.4" fill="#313131" stroke="#313131" stroke-width="0" text-anchor="end" textLength="25.80" lengthAdjust="spacingAndGlyphs">0.011</text>
<text x="41.20" y="63.27" font-size="12.4" fill="#313131" stroke="#313131" stroke-width="0" text-anchor="end" textLength="25.80" lengthAdjust="spacingAndGlyphs">0.012</text>
<text x="41.20" y="45.18" font-size="12.4" fill="#313131" stroke="#313131" stroke-width="0" text-anchor="end" textLength="25.80" lengthAdjust="spacingAndGlyphs">0.013</text>
<text x="41.20" y="27.09" font-size="12.4" fill="#313131" stroke="#313131" stroke-width="0" text-anchor="end" textLength="25.80" lengthAdjust="spacingAndGlyphs">0.014</text>
<text x="41.20" y="9.00" font-size="12.4" fill="#313131" stroke="#313131" stroke-width="0" text-anchor="end" textLength="25.80" lengthAdjust="spacingAndGlyphs">0.015</text>
<text x="85.70" y="290" font-size="12.4" fill="#313131" stroke="#313131" stroke-width="0" textLength="10.2" lengthAdjust="spacingAndGlyphs">10</text>
<text x="96.70" y="285.6" font-size="7" fill="#313131" stroke="#313131" stroke-width="0">0</text>
<text x="242.70" y="290" font-size="12.4" fill="#313131" stroke="#313131" stroke-width="0" textLength="10.2" lengthAdjust="spacingAndGlyphs">10</text>
<text x="253.70" y="285.6" font-size="7" fill="#313131" stroke="#313131" stroke-width="0">1</text>
<text x="399.70" y="290" font-size="12.4" fill="#313131" stroke="#313131" stroke-width="0" textLength="10.2" lengthAdjust="spacingAndGlyphs">10</text>
<text x="410.70" y="285.6" font-size="7" fill="#313131" stroke="#313131" stroke-width="0">2</text>
<path d="M214.9 296.2 C214.3 295.1 212.4 294.8 211.9 296.6 L210.9 305.0 C210.6 307.6 209.0 308.7 207.6 307.4 M209.9 299.6 L214.0 299.6 M222.4 294.4 L216.4 309.6" fill="none" stroke="#313131" stroke-width="1.1"/>
<text x="223.3" y="305" font-size="12.4" fill="#313131" stroke="#313131" stroke-width="0" textLength="11.8" lengthAdjust="spacingAndGlyphs">m</text>
<text x="235.2" y="308" font-size="8.5" fill="#313131" stroke="#313131" stroke-width="0" textLength="9.6" lengthAdjust="spacingAndGlyphs">Pl</text>
<text transform="translate(10.8 205.80) rotate(-90)" font-size="13.8" fill="#313131" stroke="#313131" stroke-width="0" textLength="26.40" lengthAdjust="spacingAndGlyphs">Slow</text>
<text transform="translate(10.8 175.60) rotate(-90)" font-size="13.8" fill="#313131" stroke="#313131" stroke-width="0" textLength="23.20" lengthAdjust="spacingAndGlyphs">Roll</text>
<text transform="translate(10.8 146.60) rotate(-90)" font-size="13.8" fill="#313131" stroke="#313131" stroke-width="0" textLength="61.30" lengthAdjust="spacingAndGlyphs">Parameter</text>
<text transform="translate(10.8 82.50) rotate(-90)" font-size="13.8" fill="#313131" stroke="#313131" stroke-width="0" font-style="italic" textLength="7.40" lengthAdjust="spacingAndGlyphs">ε</text>
<text x="139.30" y="40.60" font-size="11" fill="#313131" stroke="#313131" stroke-width="0" text-anchor="middle" textLength="78.70" lengthAdjust="spacingAndGlyphs">natural inflation</text>
<text x="140.10" y="55.70" font-size="11" fill="#313131" stroke="#313131" stroke-width="0" text-anchor="middle" textLength="120.40" lengthAdjust="spacingAndGlyphs">(slow roll approximation)</text>
</g>
<rect x="271" y="179" width="27" height="2" fill="#0000ff"/>
<rect x="271" y="196" width="7" height="2" fill="#ff0000"/>
<rect x="281" y="196" width="7" height="2" fill="#ff0000"/>
<rect x="291" y="196" width="7" height="2" fill="#ff0000"/>
<rect x="271" y="213" width="3" height="2" fill="#00c000"/>
<rect x="276" y="213" width="3" height="2" fill="#00c000"/>
<rect x="281" y="213" width="2" height="2" fill="#00c000"/>
<rect x="286" y="213" width="2" height="2" fill="#00c000"/>
<rect x="290" y="213" width="3" height="2" fill="#00c000"/>
<rect x="295" y="213" width="3" height="2" fill="#00c000"/>
<rect x="271" y="230" width="19" height="2" fill="#ff00ff"/>
<rect x="294" y="230" width="4" height="2" fill="#ff00ff"/>
<rect x="279" y="242" width="11" height="12" fill="#c4c4ff"/>
<rect x="315" y="179" width="9" height="1" fill="#0000ff"/>
<rect x="315" y="181" width="9" height="1" fill="#0000ff"/>
<rect x="315" y="196" width="9" height="4" fill="#ff0000"/>
<rect x="315" y="213" width="9" height="4" fill="#00c000"/>
<rect x="315" y="230" width="9" height="4" fill="#ff00ff"/>
<text x="301.3" y="183.8" font-size="12.8" fill="#0000ff" stroke="#0000ff" stroke-width="0.15" font-style="italic" textLength="9.9" lengthAdjust="spacingAndGlyphs">N</text>
<text x="326.8" y="183.8" font-size="12.4" fill="#0000ff" stroke="#0000ff" stroke-width="0.3" textLength="12" lengthAdjust="spacingAndGlyphs">40</text>
<text x="301.3" y="200.8" font-size="12.8" fill="#ff0000" stroke="#ff0000" stroke-width="0.15" font-style="italic" textLength="9.9" lengthAdjust="spacingAndGlyphs">N</text>
<text x="326.8" y="200.8" font-size="12.4" fill="#ff0000" stroke="#ff0000" stroke-width="0.3" textLength="12" lengthAdjust="spacingAndGlyphs">50</text>
<text x="301.3" y="217.8" font-size="12.8" fill="#00c000" stroke="#00c000" stroke-width="0.15" font-style="italic" textLength="9.9" lengthAdjust="spacingAndGlyphs">N</text>
<text x="326.8" y="217.8" font-size="12.4" fill="#00c000" stroke="#00c000" stroke-width="0.3" textLength="12" lengthAdjust="spacingAndGlyphs">60</text>
<text x="301.3" y="234.8" font-size="12.8" fill="#ff00ff" stroke="#ff00ff" stroke-width="0.15" font-style="italic" textLength="9.9" lengthAdjust="spacingAndGlyphs">N</text>
<text x="326.8" y="234.8" font-size="12.4" fill="#ff00ff" stroke="#ff00ff" stroke-width="0.3" textLength="12" lengthAdjust="spacingAndGlyphs">70</text>
<text x="300.8" y="252" font-size="12.4" fill="#0000ff" stroke="#0000ff" stroke-width="0.3" font-style="italic">ρ</text>
<text x="307.5" y="253.2" font-size="8.6" fill="#0000ff" stroke="#0000ff" stroke-width="0.3" textLength="10.9" lengthAdjust="spacingAndGlyphs">RH</text>
<text x="323.9" y="252.2" font-size="13.4" fill="#0000ff" stroke="#0000ff" stroke-width="0.3">&gt;</text>
<text x="336.2" y="251" font-size="12.4" fill="#0000ff" stroke="#0000ff" stroke-width="0.3" textLength="38.6" lengthAdjust="spacingAndGlyphs">(1 GeV)</text>
<text x="374.8" y="246.6" font-size="8" fill="#0000ff" stroke="#0000ff" stroke-width="0.3">4</text>
</svg></body></html>
